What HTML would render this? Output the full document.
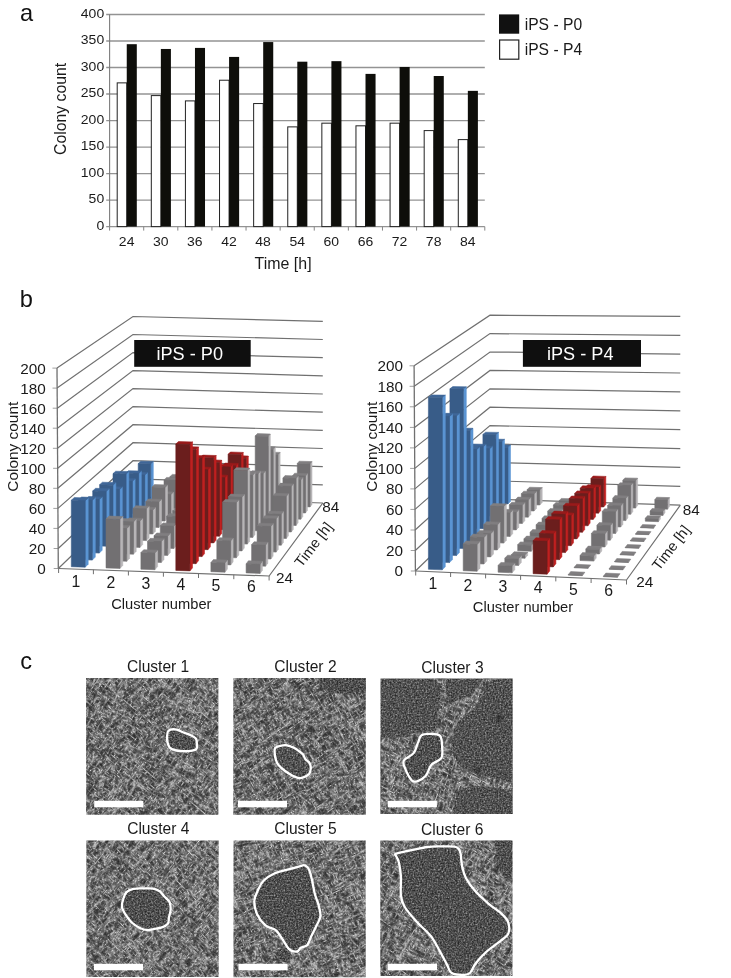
<!DOCTYPE html><html><head><meta charset="utf-8"><title>Figure</title><style>html,body{margin:0;padding:0;background:#fff}svg{display:block;will-change:transform}</style></head><body>
<svg width="731" height="978" viewBox="0 0 731 978">
<rect width="731" height="978" fill="#fff"/>
<defs>
<filter id="va0" x="0" y="0" width="100%" height="100%" color-interpolation-filters="sRGB"><feTurbulence type="turbulence" baseFrequency="0.3 0.09" numOctaves="2" seed="3" result="n"/>
<feComponentTransfer in="n" result="m"><feFuncA type="table" tableValues="0.86 0.56 0.37 0.28 0.232 0.202 0.182 0.168 0.158 0.152 0.152"/></feComponentTransfer>
<feColorMatrix in="m" type="matrix" values="0 0 0 1 0  0 0 0 1 0  0 0 0 1 0  0 0 0 0 1" result="g"/><feTurbulence type="fractalNoise" baseFrequency="0.7" numOctaves="2" seed="5" result="q"/>
<feColorMatrix in="q" type="matrix" values="0 0 0 1 0  0 0 0 1 0  0 0 0 1 0  0 0 0 0 1" result="q2"/>
<feComposite in="g" in2="q2" operator="arithmetic" k1="0" k2="1" k3="0.42" k4="-0.210"/></filter>
<filter id="vb0" x="0" y="0" width="100%" height="100%" color-interpolation-filters="sRGB"><feTurbulence type="turbulence" baseFrequency="0.3 0.09" numOctaves="2" seed="20" result="n"/>
<feComponentTransfer in="n" result="m"><feFuncA type="table" tableValues="0.86 0.56 0.37 0.28 0.232 0.202 0.182 0.168 0.158 0.152 0.152"/></feComponentTransfer>
<feColorMatrix in="m" type="matrix" values="0 0 0 1 0  0 0 0 1 0  0 0 0 1 0  0 0 0 0 1" result="g"/><feTurbulence type="fractalNoise" baseFrequency="0.7" numOctaves="2" seed="12" result="q"/>
<feColorMatrix in="q" type="matrix" values="0 0 0 1 0  0 0 0 1 0  0 0 0 1 0  0 0 0 0 1" result="q2"/>
<feComposite in="g" in2="q2" operator="arithmetic" k1="0" k2="1" k3="0.42" k4="-0.210"/></filter>
<filter id="col0" x="0" y="0" width="100%" height="100%" color-interpolation-filters="sRGB"><feTurbulence type="fractalNoise" baseFrequency="0.62" numOctaves="2" seed="4" result="n"/>
<feComponentTransfer in="n" result="m"><feFuncA type="table" tableValues="0.1 0.12 0.15 0.2 0.25 0.31 0.38 0.46 0.56 0.66 0.72"/></feComponentTransfer>
<feColorMatrix in="m" type="matrix" values="0 0 0 1 0  0 0 0 1 0  0 0 0 1 0  0 0 0 0 1"/></filter>
<filter id="va1" x="0" y="0" width="100%" height="100%" color-interpolation-filters="sRGB"><feTurbulence type="turbulence" baseFrequency="0.3 0.09" numOctaves="2" seed="7" result="n"/>
<feComponentTransfer in="n" result="m"><feFuncA type="table" tableValues="0.86 0.56 0.37 0.28 0.232 0.202 0.182 0.168 0.158 0.152 0.152"/></feComponentTransfer>
<feColorMatrix in="m" type="matrix" values="0 0 0 1 0  0 0 0 1 0  0 0 0 1 0  0 0 0 0 1" result="g"/><feTurbulence type="fractalNoise" baseFrequency="0.7" numOctaves="2" seed="6" result="q"/>
<feColorMatrix in="q" type="matrix" values="0 0 0 1 0  0 0 0 1 0  0 0 0 1 0  0 0 0 0 1" result="q2"/>
<feComposite in="g" in2="q2" operator="arithmetic" k1="0" k2="1" k3="0.42" k4="-0.210"/></filter>
<filter id="vb1" x="0" y="0" width="100%" height="100%" color-interpolation-filters="sRGB"><feTurbulence type="turbulence" baseFrequency="0.3 0.09" numOctaves="2" seed="23" result="n"/>
<feComponentTransfer in="n" result="m"><feFuncA type="table" tableValues="0.86 0.56 0.37 0.28 0.232 0.202 0.182 0.168 0.158 0.152 0.152"/></feComponentTransfer>
<feColorMatrix in="m" type="matrix" values="0 0 0 1 0  0 0 0 1 0  0 0 0 1 0  0 0 0 0 1" result="g"/><feTurbulence type="fractalNoise" baseFrequency="0.7" numOctaves="2" seed="13" result="q"/>
<feColorMatrix in="q" type="matrix" values="0 0 0 1 0  0 0 0 1 0  0 0 0 1 0  0 0 0 0 1" result="q2"/>
<feComposite in="g" in2="q2" operator="arithmetic" k1="0" k2="1" k3="0.42" k4="-0.210"/></filter>
<filter id="col1" x="0" y="0" width="100%" height="100%" color-interpolation-filters="sRGB"><feTurbulence type="fractalNoise" baseFrequency="0.62" numOctaves="2" seed="7" result="n"/>
<feComponentTransfer in="n" result="m"><feFuncA type="table" tableValues="0.1 0.12 0.15 0.2 0.25 0.31 0.38 0.46 0.56 0.66 0.72"/></feComponentTransfer>
<feColorMatrix in="m" type="matrix" values="0 0 0 1 0  0 0 0 1 0  0 0 0 1 0  0 0 0 0 1"/></filter>
<filter id="va2" x="0" y="0" width="100%" height="100%" color-interpolation-filters="sRGB"><feTurbulence type="turbulence" baseFrequency="0.3 0.09" numOctaves="2" seed="11" result="n"/>
<feComponentTransfer in="n" result="m"><feFuncA type="table" tableValues="0.86 0.56 0.37 0.28 0.232 0.202 0.182 0.168 0.158 0.152 0.152"/></feComponentTransfer>
<feColorMatrix in="m" type="matrix" values="0 0 0 1 0  0 0 0 1 0  0 0 0 1 0  0 0 0 0 1" result="g"/><feTurbulence type="fractalNoise" baseFrequency="0.7" numOctaves="2" seed="7" result="q"/>
<feColorMatrix in="q" type="matrix" values="0 0 0 1 0  0 0 0 1 0  0 0 0 1 0  0 0 0 0 1" result="q2"/>
<feComposite in="g" in2="q2" operator="arithmetic" k1="0" k2="1" k3="0.42" k4="-0.210"/></filter>
<filter id="vb2" x="0" y="0" width="100%" height="100%" color-interpolation-filters="sRGB"><feTurbulence type="turbulence" baseFrequency="0.3 0.09" numOctaves="2" seed="26" result="n"/>
<feComponentTransfer in="n" result="m"><feFuncA type="table" tableValues="0.86 0.56 0.37 0.28 0.232 0.202 0.182 0.168 0.158 0.152 0.152"/></feComponentTransfer>
<feColorMatrix in="m" type="matrix" values="0 0 0 1 0  0 0 0 1 0  0 0 0 1 0  0 0 0 0 1" result="g"/><feTurbulence type="fractalNoise" baseFrequency="0.7" numOctaves="2" seed="14" result="q"/>
<feColorMatrix in="q" type="matrix" values="0 0 0 1 0  0 0 0 1 0  0 0 0 1 0  0 0 0 0 1" result="q2"/>
<feComposite in="g" in2="q2" operator="arithmetic" k1="0" k2="1" k3="0.42" k4="-0.210"/></filter>
<filter id="col2" x="0" y="0" width="100%" height="100%" color-interpolation-filters="sRGB"><feTurbulence type="fractalNoise" baseFrequency="0.62" numOctaves="2" seed="10" result="n"/>
<feComponentTransfer in="n" result="m"><feFuncA type="table" tableValues="0.11 0.13 0.16 0.21 0.26 0.32 0.39 0.47 0.57 0.67 0.73"/></feComponentTransfer>
<feColorMatrix in="m" type="matrix" values="0 0 0 1 0  0 0 0 1 0  0 0 0 1 0  0 0 0 0 1"/></filter>
<filter id="va3" x="0" y="0" width="100%" height="100%" color-interpolation-filters="sRGB"><feTurbulence type="turbulence" baseFrequency="0.3 0.09" numOctaves="2" seed="15" result="n"/>
<feComponentTransfer in="n" result="m"><feFuncA type="table" tableValues="0.86 0.56 0.37 0.28 0.232 0.202 0.182 0.168 0.158 0.152 0.152"/></feComponentTransfer>
<feColorMatrix in="m" type="matrix" values="0 0 0 1 0  0 0 0 1 0  0 0 0 1 0  0 0 0 0 1" result="g"/><feTurbulence type="fractalNoise" baseFrequency="0.7" numOctaves="2" seed="8" result="q"/>
<feColorMatrix in="q" type="matrix" values="0 0 0 1 0  0 0 0 1 0  0 0 0 1 0  0 0 0 0 1" result="q2"/>
<feComposite in="g" in2="q2" operator="arithmetic" k1="0" k2="1" k3="0.42" k4="-0.210"/></filter>
<filter id="vb3" x="0" y="0" width="100%" height="100%" color-interpolation-filters="sRGB"><feTurbulence type="turbulence" baseFrequency="0.3 0.09" numOctaves="2" seed="29" result="n"/>
<feComponentTransfer in="n" result="m"><feFuncA type="table" tableValues="0.86 0.56 0.37 0.28 0.232 0.202 0.182 0.168 0.158 0.152 0.152"/></feComponentTransfer>
<feColorMatrix in="m" type="matrix" values="0 0 0 1 0  0 0 0 1 0  0 0 0 1 0  0 0 0 0 1" result="g"/><feTurbulence type="fractalNoise" baseFrequency="0.7" numOctaves="2" seed="15" result="q"/>
<feColorMatrix in="q" type="matrix" values="0 0 0 1 0  0 0 0 1 0  0 0 0 1 0  0 0 0 0 1" result="q2"/>
<feComposite in="g" in2="q2" operator="arithmetic" k1="0" k2="1" k3="0.42" k4="-0.210"/></filter>
<filter id="col3" x="0" y="0" width="100%" height="100%" color-interpolation-filters="sRGB"><feTurbulence type="fractalNoise" baseFrequency="0.62" numOctaves="2" seed="13" result="n"/>
<feComponentTransfer in="n" result="m"><feFuncA type="table" tableValues="0.1 0.12 0.15 0.2 0.25 0.31 0.38 0.46 0.56 0.66 0.72"/></feComponentTransfer>
<feColorMatrix in="m" type="matrix" values="0 0 0 1 0  0 0 0 1 0  0 0 0 1 0  0 0 0 0 1"/></filter>
<filter id="va4" x="0" y="0" width="100%" height="100%" color-interpolation-filters="sRGB"><feTurbulence type="turbulence" baseFrequency="0.3 0.09" numOctaves="2" seed="19" result="n"/>
<feComponentTransfer in="n" result="m"><feFuncA type="table" tableValues="0.86 0.56 0.37 0.28 0.232 0.202 0.182 0.168 0.158 0.152 0.152"/></feComponentTransfer>
<feColorMatrix in="m" type="matrix" values="0 0 0 1 0  0 0 0 1 0  0 0 0 1 0  0 0 0 0 1" result="g"/><feTurbulence type="fractalNoise" baseFrequency="0.7" numOctaves="2" seed="9" result="q"/>
<feColorMatrix in="q" type="matrix" values="0 0 0 1 0  0 0 0 1 0  0 0 0 1 0  0 0 0 0 1" result="q2"/>
<feComposite in="g" in2="q2" operator="arithmetic" k1="0" k2="1" k3="0.42" k4="-0.210"/></filter>
<filter id="vb4" x="0" y="0" width="100%" height="100%" color-interpolation-filters="sRGB"><feTurbulence type="turbulence" baseFrequency="0.3 0.09" numOctaves="2" seed="32" result="n"/>
<feComponentTransfer in="n" result="m"><feFuncA type="table" tableValues="0.86 0.56 0.37 0.28 0.232 0.202 0.182 0.168 0.158 0.152 0.152"/></feComponentTransfer>
<feColorMatrix in="m" type="matrix" values="0 0 0 1 0  0 0 0 1 0  0 0 0 1 0  0 0 0 0 1" result="g"/><feTurbulence type="fractalNoise" baseFrequency="0.7" numOctaves="2" seed="16" result="q"/>
<feColorMatrix in="q" type="matrix" values="0 0 0 1 0  0 0 0 1 0  0 0 0 1 0  0 0 0 0 1" result="q2"/>
<feComposite in="g" in2="q2" operator="arithmetic" k1="0" k2="1" k3="0.42" k4="-0.210"/></filter>
<filter id="col4" x="0" y="0" width="100%" height="100%" color-interpolation-filters="sRGB"><feTurbulence type="fractalNoise" baseFrequency="0.62" numOctaves="2" seed="16" result="n"/>
<feComponentTransfer in="n" result="m"><feFuncA type="table" tableValues="0.1 0.12 0.15 0.2 0.25 0.31 0.38 0.46 0.56 0.66 0.72"/></feComponentTransfer>
<feColorMatrix in="m" type="matrix" values="0 0 0 1 0  0 0 0 1 0  0 0 0 1 0  0 0 0 0 1"/></filter>
<filter id="va5" x="0" y="0" width="100%" height="100%" color-interpolation-filters="sRGB"><feTurbulence type="turbulence" baseFrequency="0.3 0.09" numOctaves="2" seed="23" result="n"/>
<feComponentTransfer in="n" result="m"><feFuncA type="table" tableValues="0.86 0.56 0.37 0.28 0.232 0.202 0.182 0.168 0.158 0.152 0.152"/></feComponentTransfer>
<feColorMatrix in="m" type="matrix" values="0 0 0 1 0  0 0 0 1 0  0 0 0 1 0  0 0 0 0 1" result="g"/><feTurbulence type="fractalNoise" baseFrequency="0.7" numOctaves="2" seed="10" result="q"/>
<feColorMatrix in="q" type="matrix" values="0 0 0 1 0  0 0 0 1 0  0 0 0 1 0  0 0 0 0 1" result="q2"/>
<feComposite in="g" in2="q2" operator="arithmetic" k1="0" k2="1" k3="0.42" k4="-0.210"/></filter>
<filter id="vb5" x="0" y="0" width="100%" height="100%" color-interpolation-filters="sRGB"><feTurbulence type="turbulence" baseFrequency="0.3 0.09" numOctaves="2" seed="35" result="n"/>
<feComponentTransfer in="n" result="m"><feFuncA type="table" tableValues="0.86 0.56 0.37 0.28 0.232 0.202 0.182 0.168 0.158 0.152 0.152"/></feComponentTransfer>
<feColorMatrix in="m" type="matrix" values="0 0 0 1 0  0 0 0 1 0  0 0 0 1 0  0 0 0 0 1" result="g"/><feTurbulence type="fractalNoise" baseFrequency="0.7" numOctaves="2" seed="17" result="q"/>
<feColorMatrix in="q" type="matrix" values="0 0 0 1 0  0 0 0 1 0  0 0 0 1 0  0 0 0 0 1" result="q2"/>
<feComposite in="g" in2="q2" operator="arithmetic" k1="0" k2="1" k3="0.42" k4="-0.210"/></filter>
<filter id="col5" x="0" y="0" width="100%" height="100%" color-interpolation-filters="sRGB"><feTurbulence type="fractalNoise" baseFrequency="0.62" numOctaves="2" seed="19" result="n"/>
<feComponentTransfer in="n" result="m"><feFuncA type="table" tableValues="0.1 0.12 0.15 0.2 0.25 0.31 0.38 0.46 0.56 0.66 0.72"/></feComponentTransfer>
<feColorMatrix in="m" type="matrix" values="0 0 0 1 0  0 0 0 1 0  0 0 0 1 0  0 0 0 0 1"/></filter>
<filter id="blur1" x="-50%" y="-50%" width="200%" height="200%"><feGaussianBlur stdDeviation="1"/></filter>
</defs>
<g id="pa">
<text x="20.0" y="20.5" font-size="23.6" font-family="Liberation Sans, sans-serif" fill="#111">a</text>
<line x1="106.2" y1="226.60" x2="484.8" y2="226.60" stroke="#939393" stroke-width="1.35"/>
<text transform="translate(104.2,229.80) scale(1.13,1)" text-anchor="end" font-size="12.4" font-family="Liberation Sans, sans-serif" fill="#1a1a1a">0</text>
<line x1="106.2" y1="200.09" x2="484.8" y2="200.09" stroke="#939393" stroke-width="1.35"/>
<text transform="translate(104.2,203.29) scale(1.13,1)" text-anchor="end" font-size="12.4" font-family="Liberation Sans, sans-serif" fill="#1a1a1a">50</text>
<line x1="106.2" y1="173.57" x2="484.8" y2="173.57" stroke="#939393" stroke-width="1.35"/>
<text transform="translate(104.2,176.77) scale(1.13,1)" text-anchor="end" font-size="12.4" font-family="Liberation Sans, sans-serif" fill="#1a1a1a">100</text>
<line x1="106.2" y1="147.06" x2="484.8" y2="147.06" stroke="#939393" stroke-width="1.35"/>
<text transform="translate(104.2,150.26) scale(1.13,1)" text-anchor="end" font-size="12.4" font-family="Liberation Sans, sans-serif" fill="#1a1a1a">150</text>
<line x1="106.2" y1="120.55" x2="484.8" y2="120.55" stroke="#939393" stroke-width="1.35"/>
<text transform="translate(104.2,123.75) scale(1.13,1)" text-anchor="end" font-size="12.4" font-family="Liberation Sans, sans-serif" fill="#1a1a1a">200</text>
<line x1="106.2" y1="94.04" x2="484.8" y2="94.04" stroke="#939393" stroke-width="1.35"/>
<text transform="translate(104.2,97.24) scale(1.13,1)" text-anchor="end" font-size="12.4" font-family="Liberation Sans, sans-serif" fill="#1a1a1a">250</text>
<line x1="106.2" y1="67.53" x2="484.8" y2="67.53" stroke="#939393" stroke-width="1.35"/>
<text transform="translate(104.2,70.73) scale(1.13,1)" text-anchor="end" font-size="12.4" font-family="Liberation Sans, sans-serif" fill="#1a1a1a">300</text>
<line x1="106.2" y1="41.01" x2="484.8" y2="41.01" stroke="#939393" stroke-width="1.35"/>
<text transform="translate(104.2,44.21) scale(1.13,1)" text-anchor="end" font-size="12.4" font-family="Liberation Sans, sans-serif" fill="#1a1a1a">350</text>
<line x1="106.2" y1="14.50" x2="484.8" y2="14.50" stroke="#939393" stroke-width="1.35"/>
<text transform="translate(104.2,17.70) scale(1.13,1)" text-anchor="end" font-size="12.4" font-family="Liberation Sans, sans-serif" fill="#1a1a1a">400</text>
<line x1="109.6" y1="14.5" x2="109.6" y2="226.6" stroke="#7c7c7c" stroke-width="1.1"/>
<line x1="109.60" y1="226.6" x2="109.60" y2="230.6" stroke="#868686" stroke-width="1"/>
<line x1="143.71" y1="226.6" x2="143.71" y2="230.6" stroke="#868686" stroke-width="1"/>
<line x1="177.82" y1="226.6" x2="177.82" y2="230.6" stroke="#868686" stroke-width="1"/>
<line x1="211.93" y1="226.6" x2="211.93" y2="230.6" stroke="#868686" stroke-width="1"/>
<line x1="246.04" y1="226.6" x2="246.04" y2="230.6" stroke="#868686" stroke-width="1"/>
<line x1="280.15" y1="226.6" x2="280.15" y2="230.6" stroke="#868686" stroke-width="1"/>
<line x1="314.25" y1="226.6" x2="314.25" y2="230.6" stroke="#868686" stroke-width="1"/>
<line x1="348.36" y1="226.6" x2="348.36" y2="230.6" stroke="#868686" stroke-width="1"/>
<line x1="382.47" y1="226.6" x2="382.47" y2="230.6" stroke="#868686" stroke-width="1"/>
<line x1="416.58" y1="226.6" x2="416.58" y2="230.6" stroke="#868686" stroke-width="1"/>
<line x1="450.69" y1="226.6" x2="450.69" y2="230.6" stroke="#868686" stroke-width="1"/>
<line x1="484.80" y1="226.6" x2="484.80" y2="230.6" stroke="#868686" stroke-width="1"/>
<rect x="117.20" y="82.87" width="9.55" height="143.73" fill="#fff" stroke="#222" stroke-width="1"/>
<rect x="126.75" y="44.19" width="10.05" height="182.41" fill="#0e0e0a"/>
<text transform="translate(126.65,246.3) scale(1.13,1)" text-anchor="middle" font-size="12.4" font-family="Liberation Sans, sans-serif" fill="#1a1a1a">24</text>
<rect x="151.31" y="95.60" width="9.55" height="131.00" fill="#fff" stroke="#222" stroke-width="1"/>
<rect x="160.86" y="48.97" width="10.05" height="177.63" fill="#0e0e0a"/>
<text transform="translate(160.76,246.3) scale(1.13,1)" text-anchor="middle" font-size="12.4" font-family="Liberation Sans, sans-serif" fill="#1a1a1a">30</text>
<rect x="185.42" y="100.90" width="9.55" height="125.70" fill="#fff" stroke="#222" stroke-width="1"/>
<rect x="194.97" y="47.91" width="10.05" height="178.69" fill="#0e0e0a"/>
<text transform="translate(194.87,246.3) scale(1.13,1)" text-anchor="middle" font-size="12.4" font-family="Liberation Sans, sans-serif" fill="#1a1a1a">36</text>
<rect x="219.53" y="80.22" width="9.55" height="146.38" fill="#fff" stroke="#222" stroke-width="1"/>
<rect x="229.08" y="56.92" width="10.05" height="169.68" fill="#0e0e0a"/>
<text transform="translate(228.98,246.3) scale(1.13,1)" text-anchor="middle" font-size="12.4" font-family="Liberation Sans, sans-serif" fill="#1a1a1a">42</text>
<rect x="253.64" y="103.55" width="9.55" height="123.05" fill="#fff" stroke="#222" stroke-width="1"/>
<rect x="263.19" y="42.07" width="10.05" height="184.53" fill="#0e0e0a"/>
<text transform="translate(263.09,246.3) scale(1.13,1)" text-anchor="middle" font-size="12.4" font-family="Liberation Sans, sans-serif" fill="#1a1a1a">48</text>
<rect x="287.75" y="126.88" width="9.55" height="99.72" fill="#fff" stroke="#222" stroke-width="1"/>
<rect x="297.30" y="61.69" width="10.05" height="164.91" fill="#0e0e0a"/>
<text transform="translate(297.20,246.3) scale(1.13,1)" text-anchor="middle" font-size="12.4" font-family="Liberation Sans, sans-serif" fill="#1a1a1a">54</text>
<rect x="321.85" y="123.17" width="9.55" height="103.43" fill="#fff" stroke="#222" stroke-width="1"/>
<rect x="331.40" y="61.16" width="10.05" height="165.44" fill="#0e0e0a"/>
<text transform="translate(331.31,246.3) scale(1.13,1)" text-anchor="middle" font-size="12.4" font-family="Liberation Sans, sans-serif" fill="#1a1a1a">60</text>
<rect x="355.96" y="125.82" width="9.55" height="100.78" fill="#fff" stroke="#222" stroke-width="1"/>
<rect x="365.51" y="73.89" width="10.05" height="152.71" fill="#0e0e0a"/>
<text transform="translate(365.42,246.3) scale(1.13,1)" text-anchor="middle" font-size="12.4" font-family="Liberation Sans, sans-serif" fill="#1a1a1a">66</text>
<rect x="390.07" y="123.17" width="9.55" height="103.43" fill="#fff" stroke="#222" stroke-width="1"/>
<rect x="399.62" y="66.99" width="10.05" height="159.61" fill="#0e0e0a"/>
<text transform="translate(399.53,246.3) scale(1.13,1)" text-anchor="middle" font-size="12.4" font-family="Liberation Sans, sans-serif" fill="#1a1a1a">72</text>
<rect x="424.18" y="130.59" width="9.55" height="96.01" fill="#fff" stroke="#222" stroke-width="1"/>
<rect x="433.73" y="76.01" width="10.05" height="150.59" fill="#0e0e0a"/>
<text transform="translate(433.64,246.3) scale(1.13,1)" text-anchor="middle" font-size="12.4" font-family="Liberation Sans, sans-serif" fill="#1a1a1a">78</text>
<rect x="458.29" y="139.61" width="9.55" height="86.99" fill="#fff" stroke="#222" stroke-width="1"/>
<rect x="467.84" y="90.86" width="10.05" height="135.74" fill="#0e0e0a"/>
<text transform="translate(467.75,246.3) scale(1.13,1)" text-anchor="middle" font-size="12.4" font-family="Liberation Sans, sans-serif" fill="#1a1a1a">84</text>
<text x="283.1" y="269.3" text-anchor="middle" font-size="15.7" font-family="Liberation Sans, sans-serif" fill="#1a1a1a" textLength="57" lengthAdjust="spacingAndGlyphs">Time [h]</text>
<text transform="translate(66.1,108.9) rotate(-90)" text-anchor="middle" font-size="15.7" font-family="Liberation Sans, sans-serif" fill="#1a1a1a" textLength="92" lengthAdjust="spacingAndGlyphs">Colony count</text>
<rect x="499" y="14.4" width="20.2" height="19.3" fill="#111"/>
<rect x="499.6" y="40" width="19.2" height="19.2" fill="#fff" stroke="#222" stroke-width="1.2"/>
<text x="524.7" y="29.9" font-size="15.7" font-family="Liberation Sans, sans-serif" fill="#1a1a1a" textLength="57.4" lengthAdjust="spacingAndGlyphs">iPS - P0</text>
<text x="524.7" y="54.7" font-size="15.7" font-family="Liberation Sans, sans-serif" fill="#1a1a1a" textLength="57.4" lengthAdjust="spacingAndGlyphs">iPS - P4</text>
</g>
<text x="19.8" y="306.7" font-size="23.6" font-family="Liberation Sans, sans-serif" fill="#111">b</text>
<g>
<polyline points="58.3,568.5 133.0,496.8 322.8,503.0" fill="none" stroke="#707070" stroke-width="1.2"/>
<line x1="53.7" y1="568.5" x2="58.3" y2="568.5" stroke="#a0a0a0" stroke-width="1"/>
<text x="45.8" y="573.9" text-anchor="end" font-size="15.3" font-family="Liberation Sans, sans-serif" fill="#1a1a1a">0</text>
<polyline points="58.2,548.5 133.0,478.8 322.8,484.8" fill="none" stroke="#707070" stroke-width="1.2"/>
<line x1="53.6" y1="548.5" x2="58.2" y2="548.5" stroke="#a0a0a0" stroke-width="1"/>
<text x="45.8" y="553.9" text-anchor="end" font-size="15.3" font-family="Liberation Sans, sans-serif" fill="#1a1a1a">20</text>
<polyline points="58.0,528.4 133.0,460.7 322.8,466.7" fill="none" stroke="#707070" stroke-width="1.2"/>
<line x1="53.4" y1="528.4" x2="58.0" y2="528.4" stroke="#a0a0a0" stroke-width="1"/>
<text x="45.8" y="533.8" text-anchor="end" font-size="15.3" font-family="Liberation Sans, sans-serif" fill="#1a1a1a">40</text>
<polyline points="57.9,508.4 133.0,442.7 322.8,448.5" fill="none" stroke="#707070" stroke-width="1.2"/>
<line x1="53.3" y1="508.4" x2="57.9" y2="508.4" stroke="#a0a0a0" stroke-width="1"/>
<text x="45.8" y="513.8" text-anchor="end" font-size="15.3" font-family="Liberation Sans, sans-serif" fill="#1a1a1a">60</text>
<polyline points="57.8,488.3 133.0,424.7 322.8,430.3" fill="none" stroke="#707070" stroke-width="1.2"/>
<line x1="53.2" y1="488.3" x2="57.8" y2="488.3" stroke="#a0a0a0" stroke-width="1"/>
<text x="45.8" y="493.7" text-anchor="end" font-size="15.3" font-family="Liberation Sans, sans-serif" fill="#1a1a1a">80</text>
<polyline points="57.7,468.3 133.0,406.6 322.8,412.2" fill="none" stroke="#707070" stroke-width="1.2"/>
<line x1="53.1" y1="468.3" x2="57.7" y2="468.3" stroke="#a0a0a0" stroke-width="1"/>
<text x="45.8" y="473.7" text-anchor="end" font-size="15.3" font-family="Liberation Sans, sans-serif" fill="#1a1a1a">100</text>
<polyline points="57.5,448.3 133.0,388.6 322.8,394.0" fill="none" stroke="#707070" stroke-width="1.2"/>
<line x1="52.9" y1="448.3" x2="57.5" y2="448.3" stroke="#a0a0a0" stroke-width="1"/>
<text x="45.8" y="453.7" text-anchor="end" font-size="15.3" font-family="Liberation Sans, sans-serif" fill="#1a1a1a">120</text>
<polyline points="57.4,428.2 133.0,370.6 322.8,375.8" fill="none" stroke="#707070" stroke-width="1.2"/>
<line x1="52.8" y1="428.2" x2="57.4" y2="428.2" stroke="#a0a0a0" stroke-width="1"/>
<text x="45.8" y="433.6" text-anchor="end" font-size="15.3" font-family="Liberation Sans, sans-serif" fill="#1a1a1a">140</text>
<polyline points="57.3,408.2 133.0,352.6 322.8,357.7" fill="none" stroke="#707070" stroke-width="1.2"/>
<line x1="52.7" y1="408.2" x2="57.3" y2="408.2" stroke="#a0a0a0" stroke-width="1"/>
<text x="45.8" y="413.6" text-anchor="end" font-size="15.3" font-family="Liberation Sans, sans-serif" fill="#1a1a1a">160</text>
<polyline points="57.1,388.1 133.0,334.5 322.8,339.5" fill="none" stroke="#707070" stroke-width="1.2"/>
<line x1="52.5" y1="388.1" x2="57.1" y2="388.1" stroke="#a0a0a0" stroke-width="1"/>
<text x="45.8" y="393.5" text-anchor="end" font-size="15.3" font-family="Liberation Sans, sans-serif" fill="#1a1a1a">180</text>
<polyline points="57.0,368.1 133.0,316.5 322.8,321.3" fill="none" stroke="#707070" stroke-width="1.2"/>
<line x1="52.4" y1="368.1" x2="57.0" y2="368.1" stroke="#a0a0a0" stroke-width="1"/>
<text x="45.8" y="373.5" text-anchor="end" font-size="15.3" font-family="Liberation Sans, sans-serif" fill="#1a1a1a">200</text>
<line x1="58.3" y1="568.5" x2="57.0" y2="368.1" stroke="#707070" stroke-width="1.3"/>
<polyline points="58.6,568.5 269.1,576.0 322.8,503.0" fill="none" stroke="#707070" stroke-width="1.2"/>
<line x1="58.6" y1="568.5" x2="58.6" y2="573.0" stroke="#707070" stroke-width="1"/>
<line x1="93.4" y1="569.7" x2="93.4" y2="574.2" stroke="#707070" stroke-width="1"/>
<line x1="128.4" y1="571.0" x2="128.4" y2="575.5" stroke="#707070" stroke-width="1"/>
<line x1="163.4" y1="572.2" x2="163.4" y2="576.7" stroke="#707070" stroke-width="1"/>
<line x1="198.5" y1="573.5" x2="198.5" y2="578.0" stroke="#707070" stroke-width="1"/>
<line x1="233.8" y1="574.7" x2="233.8" y2="579.2" stroke="#707070" stroke-width="1"/>
<line x1="269.1" y1="576.0" x2="269.1" y2="580.5" stroke="#707070" stroke-width="1"/>
<rect x="134.2" y="340" width="116.5" height="26.8" fill="#0f0f0f"/>
<text x="156.5" y="360.2" font-size="17.8" font-family="Liberation Sans, sans-serif" fill="#fff" textLength="66.5" lengthAdjust="spacingAndGlyphs">iPS - P0</text>
<polygon points="150.8,501.7 153.3,499.2 153.3,461.6 150.8,464.0" fill="#5a94d3" stroke="#5a94d3" stroke-width="0.55" stroke-linejoin="round" />
<polygon points="138.2,463.6 150.8,464.0 153.3,461.6 140.7,461.2" fill="#3f6698" stroke="#3f6698" stroke-width="0.55" stroke-linejoin="round" />
<polygon points="138.2,501.2 150.8,501.7 150.8,464.0 138.2,463.6" fill="#385c88" stroke="#385c88" stroke-width="0.55" stroke-linejoin="round" />
<polygon points="182.5,502.7 184.9,500.2 184.9,474.8 182.5,477.2" fill="#b7b5b7" stroke="#b7b5b7" stroke-width="0.55" stroke-linejoin="round" />
<polygon points="169.8,476.8 182.5,477.2 184.9,474.8 172.3,474.4" fill="#807e80" stroke="#807e80" stroke-width="0.55" stroke-linejoin="round" />
<polygon points="169.8,502.3 182.5,502.7 182.5,477.2 169.8,476.8" fill="#727072" stroke="#727072" stroke-width="0.55" stroke-linejoin="round" />
<polygon points="214.3,503.7 216.6,501.2 216.6,483.1 214.3,485.5" fill="#b7b5b7" stroke="#b7b5b7" stroke-width="0.55" stroke-linejoin="round" />
<polygon points="201.6,485.1 214.3,485.5 216.6,483.1 203.9,482.7" fill="#807e80" stroke="#807e80" stroke-width="0.55" stroke-linejoin="round" />
<polygon points="201.6,503.3 214.3,503.7 214.3,485.5 201.6,485.1" fill="#727072" stroke="#727072" stroke-width="0.55" stroke-linejoin="round" />
<polygon points="246.2,504.8 248.3,502.3 248.3,456.0 246.2,458.3" fill="#bf2020" stroke="#bf2020" stroke-width="0.55" stroke-linejoin="round" />
<polygon points="233.4,457.9 246.2,458.3 248.3,456.0 235.6,455.6" fill="#991a1a" stroke="#991a1a" stroke-width="0.55" stroke-linejoin="round" />
<polygon points="233.4,504.4 246.2,504.8 246.2,458.3 233.4,457.9" fill="#6b1e1d" stroke="#6b1e1d" stroke-width="0.55" stroke-linejoin="round" />
<polygon points="278.1,505.8 280.1,503.3 280.1,452.4 278.1,454.7" fill="#b7b5b7" stroke="#b7b5b7" stroke-width="0.55" stroke-linejoin="round" />
<polygon points="265.3,454.3 278.1,454.7 280.1,452.4 267.4,452.0" fill="#807e80" stroke="#807e80" stroke-width="0.55" stroke-linejoin="round" />
<polygon points="265.3,505.4 278.1,505.8 278.1,454.7 265.3,454.3" fill="#727072" stroke="#727072" stroke-width="0.55" stroke-linejoin="round" />
<polygon points="310.1,506.9 312.0,504.4 312.0,461.6 310.1,463.9" fill="#b7b5b7" stroke="#b7b5b7" stroke-width="0.55" stroke-linejoin="round" />
<polygon points="297.3,463.5 310.1,463.9 312.0,461.6 299.2,461.2" fill="#807e80" stroke="#807e80" stroke-width="0.55" stroke-linejoin="round" />
<polygon points="297.3,506.5 310.1,506.9 310.1,463.9 297.3,463.5" fill="#727072" stroke="#727072" stroke-width="0.55" stroke-linejoin="round" />
<polygon points="144.8,507.7 147.4,505.1 147.4,472.7 144.8,475.1" fill="#5a94d3" stroke="#5a94d3" stroke-width="0.55" stroke-linejoin="round" />
<polygon points="132.1,474.7 144.8,475.1 147.4,472.7 134.6,472.3" fill="#3f6698" stroke="#3f6698" stroke-width="0.55" stroke-linejoin="round" />
<polygon points="132.1,507.2 144.8,507.7 144.8,475.1 132.1,474.7" fill="#385c88" stroke="#385c88" stroke-width="0.55" stroke-linejoin="round" />
<polygon points="176.8,508.7 179.2,506.2 179.2,477.8 176.8,480.3" fill="#b7b5b7" stroke="#b7b5b7" stroke-width="0.55" stroke-linejoin="round" />
<polygon points="164.0,479.9 176.8,480.3 179.2,477.8 166.5,477.4" fill="#807e80" stroke="#807e80" stroke-width="0.55" stroke-linejoin="round" />
<polygon points="164.0,508.3 176.8,508.7 176.8,480.3 164.0,479.9" fill="#727072" stroke="#727072" stroke-width="0.55" stroke-linejoin="round" />
<polygon points="208.9,509.8 211.2,507.2 211.2,487.1 208.9,489.6" fill="#b7b5b7" stroke="#b7b5b7" stroke-width="0.55" stroke-linejoin="round" />
<polygon points="196.0,489.2 208.9,489.6 211.2,487.1 198.4,486.7" fill="#807e80" stroke="#807e80" stroke-width="0.55" stroke-linejoin="round" />
<polygon points="196.0,509.4 208.9,509.8 208.9,489.6 196.0,489.2" fill="#727072" stroke="#727072" stroke-width="0.55" stroke-linejoin="round" />
<polygon points="241.0,510.8 243.2,508.3 243.2,452.4 241.0,454.7" fill="#bf2020" stroke="#bf2020" stroke-width="0.55" stroke-linejoin="round" />
<polygon points="228.1,454.3 241.0,454.7 243.2,452.4 230.4,452.0" fill="#991a1a" stroke="#991a1a" stroke-width="0.55" stroke-linejoin="round" />
<polygon points="228.1,510.4 241.0,510.8 241.0,454.7 228.1,454.3" fill="#6b1e1d" stroke="#6b1e1d" stroke-width="0.55" stroke-linejoin="round" />
<polygon points="273.2,511.9 275.3,509.3 275.3,446.9 273.2,449.3" fill="#b7b5b7" stroke="#b7b5b7" stroke-width="0.55" stroke-linejoin="round" />
<polygon points="260.3,448.9 273.2,449.3 275.3,446.9 262.4,446.6" fill="#807e80" stroke="#807e80" stroke-width="0.55" stroke-linejoin="round" />
<polygon points="260.3,511.5 273.2,511.9 273.2,449.3 260.3,448.9" fill="#727072" stroke="#727072" stroke-width="0.55" stroke-linejoin="round" />
<polygon points="305.5,513.0 307.4,510.4 307.4,473.7 305.5,476.1" fill="#b7b5b7" stroke="#b7b5b7" stroke-width="0.55" stroke-linejoin="round" />
<polygon points="292.6,475.7 305.5,476.1 307.4,473.7 294.6,473.2" fill="#807e80" stroke="#807e80" stroke-width="0.55" stroke-linejoin="round" />
<polygon points="292.6,512.6 305.5,513.0 305.5,476.1 292.6,475.7" fill="#727072" stroke="#727072" stroke-width="0.55" stroke-linejoin="round" />
<polygon points="138.7,513.8 141.3,511.2 141.3,471.1 138.7,473.5" fill="#5a94d3" stroke="#5a94d3" stroke-width="0.55" stroke-linejoin="round" />
<polygon points="125.8,473.1 138.7,473.5 141.3,471.1 128.4,470.7" fill="#3f6698" stroke="#3f6698" stroke-width="0.55" stroke-linejoin="round" />
<polygon points="125.8,513.4 138.7,513.8 138.7,473.5 125.8,473.1" fill="#385c88" stroke="#385c88" stroke-width="0.55" stroke-linejoin="round" />
<polygon points="171.0,514.9 173.4,512.3 173.4,492.0 171.0,494.5" fill="#b7b5b7" stroke="#b7b5b7" stroke-width="0.55" stroke-linejoin="round" />
<polygon points="158.0,494.1 171.0,494.5 173.4,492.0 160.6,491.6" fill="#807e80" stroke="#807e80" stroke-width="0.55" stroke-linejoin="round" />
<polygon points="158.0,514.4 171.0,514.9 171.0,494.5 158.0,494.1" fill="#727072" stroke="#727072" stroke-width="0.55" stroke-linejoin="round" />
<polygon points="203.3,515.9 205.6,513.3 205.6,493.0 203.3,495.5" fill="#b7b5b7" stroke="#b7b5b7" stroke-width="0.55" stroke-linejoin="round" />
<polygon points="190.4,495.1 203.3,495.5 205.6,493.0 192.7,492.6" fill="#807e80" stroke="#807e80" stroke-width="0.55" stroke-linejoin="round" />
<polygon points="190.4,515.5 203.3,515.9 203.3,495.5 190.4,495.1" fill="#727072" stroke="#727072" stroke-width="0.55" stroke-linejoin="round" />
<polygon points="235.7,517.0 238.0,514.4 238.0,463.5 235.7,465.9" fill="#bf2020" stroke="#bf2020" stroke-width="0.55" stroke-linejoin="round" />
<polygon points="222.8,465.5 235.7,465.9 238.0,463.5 225.0,463.1" fill="#991a1a" stroke="#991a1a" stroke-width="0.55" stroke-linejoin="round" />
<polygon points="222.8,516.6 235.7,517.0 235.7,465.9 222.8,465.5" fill="#6b1e1d" stroke="#6b1e1d" stroke-width="0.55" stroke-linejoin="round" />
<polygon points="268.3,518.1 270.3,515.5 270.3,434.0 268.3,436.3" fill="#b7b5b7" stroke="#b7b5b7" stroke-width="0.55" stroke-linejoin="round" />
<polygon points="255.2,435.9 268.3,436.3 270.3,434.0 257.4,433.6" fill="#807e80" stroke="#807e80" stroke-width="0.55" stroke-linejoin="round" />
<polygon points="255.2,517.7 268.3,518.1 268.3,436.3 255.2,435.9" fill="#727072" stroke="#727072" stroke-width="0.55" stroke-linejoin="round" />
<polygon points="300.9,519.2 302.8,516.6 302.8,477.6 300.9,480.1" fill="#b7b5b7" stroke="#b7b5b7" stroke-width="0.55" stroke-linejoin="round" />
<polygon points="287.8,479.7 300.9,480.1 302.8,477.6 289.8,477.2" fill="#807e80" stroke="#807e80" stroke-width="0.55" stroke-linejoin="round" />
<polygon points="287.8,518.8 300.9,519.2 300.9,480.1 287.8,479.7" fill="#727072" stroke="#727072" stroke-width="0.55" stroke-linejoin="round" />
<polygon points="132.4,520.0 135.1,517.4 135.1,478.8 132.4,481.3" fill="#5a94d3" stroke="#5a94d3" stroke-width="0.55" stroke-linejoin="round" />
<polygon points="119.4,480.8 132.4,481.3 135.1,478.8 122.1,478.4" fill="#3f6698" stroke="#3f6698" stroke-width="0.55" stroke-linejoin="round" />
<polygon points="119.4,519.6 132.4,520.0 132.4,481.3 119.4,480.8" fill="#385c88" stroke="#385c88" stroke-width="0.55" stroke-linejoin="round" />
<polygon points="165.0,521.1 167.5,518.5 167.5,484.9 165.0,487.5" fill="#b7b5b7" stroke="#b7b5b7" stroke-width="0.55" stroke-linejoin="round" />
<polygon points="152.0,487.0 165.0,487.5 167.5,484.9 154.5,484.5" fill="#807e80" stroke="#807e80" stroke-width="0.55" stroke-linejoin="round" />
<polygon points="152.0,520.7 165.0,521.1 165.0,487.5 152.0,487.0" fill="#727072" stroke="#727072" stroke-width="0.55" stroke-linejoin="round" />
<polygon points="197.7,522.2 200.0,519.6 200.0,497.2 197.7,499.7" fill="#b7b5b7" stroke="#b7b5b7" stroke-width="0.55" stroke-linejoin="round" />
<polygon points="184.6,499.3 197.7,499.7 200.0,497.2 187.0,496.8" fill="#807e80" stroke="#807e80" stroke-width="0.55" stroke-linejoin="round" />
<polygon points="184.6,521.8 197.7,522.2 197.7,499.7 184.6,499.3" fill="#727072" stroke="#727072" stroke-width="0.55" stroke-linejoin="round" />
<polygon points="230.4,523.3 232.6,520.7 232.6,464.6 230.4,467.1" fill="#bf2020" stroke="#bf2020" stroke-width="0.55" stroke-linejoin="round" />
<polygon points="217.3,466.6 230.4,467.1 232.6,464.6 219.6,464.2" fill="#991a1a" stroke="#991a1a" stroke-width="0.55" stroke-linejoin="round" />
<polygon points="217.3,522.9 230.4,523.3 230.4,467.1 217.3,466.6" fill="#6b1e1d" stroke="#6b1e1d" stroke-width="0.55" stroke-linejoin="round" />
<polygon points="263.2,524.4 265.3,521.7 265.3,471.3 263.2,473.7" fill="#b7b5b7" stroke="#b7b5b7" stroke-width="0.55" stroke-linejoin="round" />
<polygon points="250.1,473.3 263.2,473.7 265.3,471.3 252.2,470.8" fill="#807e80" stroke="#807e80" stroke-width="0.55" stroke-linejoin="round" />
<polygon points="250.1,524.0 263.2,524.4 263.2,473.7 250.1,473.3" fill="#727072" stroke="#727072" stroke-width="0.55" stroke-linejoin="round" />
<polygon points="296.1,525.5 298.1,522.8 298.1,476.0 296.1,478.5" fill="#b7b5b7" stroke="#b7b5b7" stroke-width="0.55" stroke-linejoin="round" />
<polygon points="282.9,478.1 296.1,478.5 298.1,476.0 285.0,475.6" fill="#807e80" stroke="#807e80" stroke-width="0.55" stroke-linejoin="round" />
<polygon points="282.9,525.1 296.1,525.5 296.1,478.5 282.9,478.1" fill="#727072" stroke="#727072" stroke-width="0.55" stroke-linejoin="round" />
<polygon points="126.1,526.4 128.8,523.7 128.8,471.6 126.1,474.1" fill="#5a94d3" stroke="#5a94d3" stroke-width="0.55" stroke-linejoin="round" />
<polygon points="113.0,473.6 126.1,474.1 128.8,471.6 115.7,471.2" fill="#3f6698" stroke="#3f6698" stroke-width="0.55" stroke-linejoin="round" />
<polygon points="113.0,525.9 126.1,526.4 126.1,474.1 113.0,473.6" fill="#385c88" stroke="#385c88" stroke-width="0.55" stroke-linejoin="round" />
<polygon points="158.9,527.5 161.5,524.8 161.5,499.4 158.9,502.0" fill="#b7b5b7" stroke="#b7b5b7" stroke-width="0.55" stroke-linejoin="round" />
<polygon points="145.8,501.6 158.9,502.0 161.5,499.4 148.4,499.0" fill="#807e80" stroke="#807e80" stroke-width="0.55" stroke-linejoin="round" />
<polygon points="145.8,527.0 158.9,527.5 158.9,502.0 145.8,501.6" fill="#727072" stroke="#727072" stroke-width="0.55" stroke-linejoin="round" />
<polygon points="191.9,528.6 194.3,525.9 194.3,503.3 191.9,505.9" fill="#b7b5b7" stroke="#b7b5b7" stroke-width="0.55" stroke-linejoin="round" />
<polygon points="178.7,505.5 191.9,505.9 194.3,503.3 181.2,502.9" fill="#807e80" stroke="#807e80" stroke-width="0.55" stroke-linejoin="round" />
<polygon points="178.7,528.2 191.9,528.6 191.9,505.9 178.7,505.5" fill="#727072" stroke="#727072" stroke-width="0.55" stroke-linejoin="round" />
<polygon points="224.9,529.7 227.2,527.0 227.2,475.2 224.9,477.7" fill="#bf2020" stroke="#bf2020" stroke-width="0.55" stroke-linejoin="round" />
<polygon points="211.7,477.2 224.9,477.7 227.2,475.2 214.1,474.7" fill="#991a1a" stroke="#991a1a" stroke-width="0.55" stroke-linejoin="round" />
<polygon points="211.7,529.3 224.9,529.7 224.9,477.7 211.7,477.2" fill="#6b1e1d" stroke="#6b1e1d" stroke-width="0.55" stroke-linejoin="round" />
<polygon points="258.1,530.8 260.2,528.1 260.2,471.5 258.1,474.0" fill="#b7b5b7" stroke="#b7b5b7" stroke-width="0.55" stroke-linejoin="round" />
<polygon points="244.8,473.6 258.1,474.0 260.2,471.5 247.0,471.1" fill="#807e80" stroke="#807e80" stroke-width="0.55" stroke-linejoin="round" />
<polygon points="244.8,530.4 258.1,530.8 258.1,474.0 244.8,473.6" fill="#727072" stroke="#727072" stroke-width="0.55" stroke-linejoin="round" />
<polygon points="291.3,532.0 293.3,529.2 293.3,483.9 291.3,486.4" fill="#b7b5b7" stroke="#b7b5b7" stroke-width="0.55" stroke-linejoin="round" />
<polygon points="278.0,486.0 291.3,486.4 293.3,483.9 280.1,483.5" fill="#807e80" stroke="#807e80" stroke-width="0.55" stroke-linejoin="round" />
<polygon points="278.0,531.5 291.3,532.0 291.3,486.4 278.0,486.0" fill="#727072" stroke="#727072" stroke-width="0.55" stroke-linejoin="round" />
<polygon points="119.6,532.9 122.3,530.1 122.3,487.0 119.6,489.5" fill="#5a94d3" stroke="#5a94d3" stroke-width="0.55" stroke-linejoin="round" />
<polygon points="106.3,489.1 119.6,489.5 122.3,487.0 109.1,486.6" fill="#3f6698" stroke="#3f6698" stroke-width="0.55" stroke-linejoin="round" />
<polygon points="106.3,532.4 119.6,532.9 119.6,489.5 106.3,489.1" fill="#385c88" stroke="#385c88" stroke-width="0.55" stroke-linejoin="round" />
<polygon points="152.8,534.0 155.4,531.2 155.4,507.5 152.8,510.2" fill="#b7b5b7" stroke="#b7b5b7" stroke-width="0.55" stroke-linejoin="round" />
<polygon points="139.5,509.7 152.8,510.2 155.4,507.5 142.1,507.1" fill="#807e80" stroke="#807e80" stroke-width="0.55" stroke-linejoin="round" />
<polygon points="139.5,533.5 152.8,534.0 152.8,510.2 139.5,509.7" fill="#727072" stroke="#727072" stroke-width="0.55" stroke-linejoin="round" />
<polygon points="186.0,535.1 188.5,532.4 188.5,508.6 186.0,511.3" fill="#b7b5b7" stroke="#b7b5b7" stroke-width="0.55" stroke-linejoin="round" />
<polygon points="172.7,510.8 186.0,511.3 188.5,508.6 175.2,508.2" fill="#807e80" stroke="#807e80" stroke-width="0.55" stroke-linejoin="round" />
<polygon points="172.7,534.7 186.0,535.1 186.0,511.3 172.7,510.8" fill="#727072" stroke="#727072" stroke-width="0.55" stroke-linejoin="round" />
<polygon points="219.4,536.3 221.7,533.5 221.7,460.2 219.4,462.7" fill="#bf2020" stroke="#bf2020" stroke-width="0.55" stroke-linejoin="round" />
<polygon points="206.0,462.3 219.4,462.7 221.7,460.2 208.4,459.8" fill="#991a1a" stroke="#991a1a" stroke-width="0.55" stroke-linejoin="round" />
<polygon points="206.0,535.8 219.4,536.3 219.4,462.7 206.0,462.3" fill="#6b1e1d" stroke="#6b1e1d" stroke-width="0.55" stroke-linejoin="round" />
<polygon points="252.8,537.4 255.0,534.6 255.0,472.7 252.8,475.2" fill="#b7b5b7" stroke="#b7b5b7" stroke-width="0.55" stroke-linejoin="round" />
<polygon points="239.4,474.8 252.8,475.2 255.0,472.7 241.7,472.3" fill="#807e80" stroke="#807e80" stroke-width="0.55" stroke-linejoin="round" />
<polygon points="239.4,536.9 252.8,537.4 252.8,475.2 239.4,474.8" fill="#727072" stroke="#727072" stroke-width="0.55" stroke-linejoin="round" />
<polygon points="286.3,538.5 288.4,535.8 288.4,493.8 286.3,496.4" fill="#b7b5b7" stroke="#b7b5b7" stroke-width="0.55" stroke-linejoin="round" />
<polygon points="272.9,495.9 286.3,496.4 288.4,493.8 275.0,493.3" fill="#807e80" stroke="#807e80" stroke-width="0.55" stroke-linejoin="round" />
<polygon points="272.9,538.1 286.3,538.5 286.3,496.4 272.9,495.9" fill="#727072" stroke="#727072" stroke-width="0.55" stroke-linejoin="round" />
<polygon points="113.0,539.5 115.8,536.7 115.8,482.6 113.0,485.2" fill="#5a94d3" stroke="#5a94d3" stroke-width="0.55" stroke-linejoin="round" />
<polygon points="99.6,484.7 113.0,485.2 115.8,482.6 102.4,482.2" fill="#3f6698" stroke="#3f6698" stroke-width="0.55" stroke-linejoin="round" />
<polygon points="99.6,539.0 113.0,539.5 113.0,485.2 99.6,484.7" fill="#385c88" stroke="#385c88" stroke-width="0.55" stroke-linejoin="round" />
<polygon points="146.4,540.6 149.1,537.8 149.1,506.2 146.4,508.8" fill="#b7b5b7" stroke="#b7b5b7" stroke-width="0.55" stroke-linejoin="round" />
<polygon points="133.0,508.4 146.4,508.8 149.1,506.2 135.8,505.7" fill="#807e80" stroke="#807e80" stroke-width="0.55" stroke-linejoin="round" />
<polygon points="133.0,540.1 146.4,540.6 146.4,508.8 133.0,508.4" fill="#727072" stroke="#727072" stroke-width="0.55" stroke-linejoin="round" />
<polygon points="180.0,541.8 182.6,539.0 182.6,514.0 180.0,516.7" fill="#b7b5b7" stroke="#b7b5b7" stroke-width="0.55" stroke-linejoin="round" />
<polygon points="166.6,516.3 180.0,516.7 182.6,514.0 169.2,513.6" fill="#807e80" stroke="#807e80" stroke-width="0.55" stroke-linejoin="round" />
<polygon points="166.6,541.3 180.0,541.8 180.0,516.7 166.6,516.3" fill="#727072" stroke="#727072" stroke-width="0.55" stroke-linejoin="round" />
<polygon points="213.7,542.9 216.1,540.1 216.1,455.5 213.7,458.0" fill="#bf2020" stroke="#bf2020" stroke-width="0.55" stroke-linejoin="round" />
<polygon points="200.2,457.6 213.7,458.0 216.1,455.5 202.7,455.1" fill="#991a1a" stroke="#991a1a" stroke-width="0.55" stroke-linejoin="round" />
<polygon points="200.2,542.5 213.7,542.9 213.7,458.0 200.2,457.6" fill="#6b1e1d" stroke="#6b1e1d" stroke-width="0.55" stroke-linejoin="round" />
<polygon points="247.4,544.1 249.7,541.3 249.7,468.1 247.4,470.6" fill="#b7b5b7" stroke="#b7b5b7" stroke-width="0.55" stroke-linejoin="round" />
<polygon points="233.9,470.2 247.4,470.6 249.7,468.1 236.2,467.7" fill="#807e80" stroke="#807e80" stroke-width="0.55" stroke-linejoin="round" />
<polygon points="233.9,543.6 247.4,544.1 247.4,470.6 233.9,470.2" fill="#727072" stroke="#727072" stroke-width="0.55" stroke-linejoin="round" />
<polygon points="281.3,545.2 283.4,542.4 283.4,511.6 281.3,514.3" fill="#b7b5b7" stroke="#b7b5b7" stroke-width="0.55" stroke-linejoin="round" />
<polygon points="267.7,513.8 281.3,514.3 283.4,511.6 269.9,511.1" fill="#807e80" stroke="#807e80" stroke-width="0.55" stroke-linejoin="round" />
<polygon points="267.7,544.8 281.3,545.2 281.3,514.3 267.7,513.8" fill="#727072" stroke="#727072" stroke-width="0.55" stroke-linejoin="round" />
<polygon points="106.2,546.2 109.1,543.3 109.1,488.7 106.2,491.4" fill="#5a94d3" stroke="#5a94d3" stroke-width="0.55" stroke-linejoin="round" />
<polygon points="92.7,490.9 106.2,491.4 109.1,488.7 95.6,488.3" fill="#3f6698" stroke="#3f6698" stroke-width="0.55" stroke-linejoin="round" />
<polygon points="92.7,545.7 106.2,546.2 106.2,491.4 92.7,490.9" fill="#385c88" stroke="#385c88" stroke-width="0.55" stroke-linejoin="round" />
<polygon points="140.0,547.4 142.7,544.5 142.7,518.4 140.0,521.1" fill="#b7b5b7" stroke="#b7b5b7" stroke-width="0.55" stroke-linejoin="round" />
<polygon points="126.5,520.7 140.0,521.1 142.7,518.4 129.3,517.9" fill="#807e80" stroke="#807e80" stroke-width="0.55" stroke-linejoin="round" />
<polygon points="126.5,546.9 140.0,547.4 140.0,521.1 126.5,520.7" fill="#727072" stroke="#727072" stroke-width="0.55" stroke-linejoin="round" />
<polygon points="173.9,548.5 176.5,545.7 176.5,523.4 173.9,526.2" fill="#b7b5b7" stroke="#b7b5b7" stroke-width="0.55" stroke-linejoin="round" />
<polygon points="160.3,525.7 173.9,526.2 176.5,523.4 163.0,522.9" fill="#807e80" stroke="#807e80" stroke-width="0.55" stroke-linejoin="round" />
<polygon points="160.3,548.1 173.9,548.5 173.9,526.2 160.3,525.7" fill="#727072" stroke="#727072" stroke-width="0.55" stroke-linejoin="round" />
<polygon points="207.9,549.7 210.4,546.8 210.4,467.3 207.9,469.8" fill="#bf2020" stroke="#bf2020" stroke-width="0.55" stroke-linejoin="round" />
<polygon points="194.3,469.4 207.9,469.8 210.4,467.3 196.8,466.8" fill="#991a1a" stroke="#991a1a" stroke-width="0.55" stroke-linejoin="round" />
<polygon points="194.3,549.2 207.9,549.7 207.9,469.8 194.3,469.4" fill="#6b1e1d" stroke="#6b1e1d" stroke-width="0.55" stroke-linejoin="round" />
<polygon points="242.0,550.9 244.3,548.0 244.3,494.6 242.0,497.2" fill="#b7b5b7" stroke="#b7b5b7" stroke-width="0.55" stroke-linejoin="round" />
<polygon points="228.3,496.8 242.0,497.2 244.3,494.6 230.7,494.1" fill="#807e80" stroke="#807e80" stroke-width="0.55" stroke-linejoin="round" />
<polygon points="228.3,550.4 242.0,550.9 242.0,497.2 228.3,496.8" fill="#727072" stroke="#727072" stroke-width="0.55" stroke-linejoin="round" />
<polygon points="276.2,552.1 278.3,549.2 278.3,516.1 276.2,518.9" fill="#b7b5b7" stroke="#b7b5b7" stroke-width="0.55" stroke-linejoin="round" />
<polygon points="262.5,518.4 276.2,518.9 278.3,516.1 264.7,515.7" fill="#807e80" stroke="#807e80" stroke-width="0.55" stroke-linejoin="round" />
<polygon points="262.5,551.6 276.2,552.1 276.2,518.9 262.5,518.4" fill="#727072" stroke="#727072" stroke-width="0.55" stroke-linejoin="round" />
<polygon points="99.3,553.1 102.2,550.2 102.2,497.0 99.3,499.6" fill="#5a94d3" stroke="#5a94d3" stroke-width="0.55" stroke-linejoin="round" />
<polygon points="85.7,499.2 99.3,499.6 102.2,497.0 88.7,496.5" fill="#3f6698" stroke="#3f6698" stroke-width="0.55" stroke-linejoin="round" />
<polygon points="85.7,552.6 99.3,553.1 99.3,499.6 85.7,499.2" fill="#385c88" stroke="#385c88" stroke-width="0.55" stroke-linejoin="round" />
<polygon points="133.5,554.2 136.2,551.3 136.2,519.1 133.5,521.9" fill="#b7b5b7" stroke="#b7b5b7" stroke-width="0.55" stroke-linejoin="round" />
<polygon points="119.8,521.4 133.5,521.9 136.2,519.1 122.6,518.6" fill="#807e80" stroke="#807e80" stroke-width="0.55" stroke-linejoin="round" />
<polygon points="119.8,553.8 133.5,554.2 133.5,521.9 119.8,521.4" fill="#727072" stroke="#727072" stroke-width="0.55" stroke-linejoin="round" />
<polygon points="167.7,555.4 170.3,552.5 170.3,533.4 167.7,536.3" fill="#b7b5b7" stroke="#b7b5b7" stroke-width="0.55" stroke-linejoin="round" />
<polygon points="154.0,535.8 167.7,536.3 170.3,533.4 156.7,533.0" fill="#807e80" stroke="#807e80" stroke-width="0.55" stroke-linejoin="round" />
<polygon points="154.0,555.0 167.7,555.4 167.7,536.3 154.0,535.8" fill="#727072" stroke="#727072" stroke-width="0.55" stroke-linejoin="round" />
<polygon points="202.0,556.6 204.5,553.7 204.5,455.7 202.0,458.2" fill="#bf2020" stroke="#bf2020" stroke-width="0.55" stroke-linejoin="round" />
<polygon points="188.3,457.8 202.0,458.2 204.5,455.7 190.8,455.3" fill="#991a1a" stroke="#991a1a" stroke-width="0.55" stroke-linejoin="round" />
<polygon points="188.3,556.2 202.0,556.6 202.0,458.2 188.3,457.8" fill="#6b1e1d" stroke="#6b1e1d" stroke-width="0.55" stroke-linejoin="round" />
<polygon points="236.4,557.8 238.8,554.9 238.8,499.9 236.4,502.7" fill="#b7b5b7" stroke="#b7b5b7" stroke-width="0.55" stroke-linejoin="round" />
<polygon points="222.6,502.2 236.4,502.7 238.8,499.9 225.1,499.5" fill="#807e80" stroke="#807e80" stroke-width="0.55" stroke-linejoin="round" />
<polygon points="222.6,557.4 236.4,557.8 236.4,502.7 222.6,502.2" fill="#727072" stroke="#727072" stroke-width="0.55" stroke-linejoin="round" />
<polygon points="270.9,559.0 273.1,556.1 273.1,523.7 270.9,526.5" fill="#b7b5b7" stroke="#b7b5b7" stroke-width="0.55" stroke-linejoin="round" />
<polygon points="257.1,526.0 270.9,526.5 273.1,523.7 259.4,523.2" fill="#807e80" stroke="#807e80" stroke-width="0.55" stroke-linejoin="round" />
<polygon points="257.1,558.6 270.9,559.0 270.9,526.5 257.1,526.0" fill="#727072" stroke="#727072" stroke-width="0.55" stroke-linejoin="round" />
<polygon points="92.3,560.1 95.3,557.1 95.3,497.5 92.3,500.2" fill="#5a94d3" stroke="#5a94d3" stroke-width="0.55" stroke-linejoin="round" />
<polygon points="78.6,499.7 92.3,500.2 95.3,497.5 81.6,497.0" fill="#3f6698" stroke="#3f6698" stroke-width="0.55" stroke-linejoin="round" />
<polygon points="78.6,559.6 92.3,560.1 92.3,500.2 78.6,499.7" fill="#385c88" stroke="#385c88" stroke-width="0.55" stroke-linejoin="round" />
<polygon points="126.8,561.3 129.6,558.3 129.6,525.7 126.8,528.6" fill="#b7b5b7" stroke="#b7b5b7" stroke-width="0.55" stroke-linejoin="round" />
<polygon points="113.0,528.1 126.8,528.6 129.6,525.7 115.9,525.3" fill="#807e80" stroke="#807e80" stroke-width="0.55" stroke-linejoin="round" />
<polygon points="113.0,560.8 126.8,561.3 126.8,528.6 113.0,528.1" fill="#727072" stroke="#727072" stroke-width="0.55" stroke-linejoin="round" />
<polygon points="161.3,562.5 164.0,559.5 164.0,538.8 161.3,541.6" fill="#b7b5b7" stroke="#b7b5b7" stroke-width="0.55" stroke-linejoin="round" />
<polygon points="147.5,541.2 161.3,541.6 164.0,538.8 150.2,538.3" fill="#807e80" stroke="#807e80" stroke-width="0.55" stroke-linejoin="round" />
<polygon points="147.5,562.0 161.3,562.5 161.3,541.6 147.5,541.2" fill="#727072" stroke="#727072" stroke-width="0.55" stroke-linejoin="round" />
<polygon points="196.0,563.7 198.5,560.7 198.5,446.9 196.0,449.4" fill="#bf2020" stroke="#bf2020" stroke-width="0.55" stroke-linejoin="round" />
<polygon points="182.1,449.0 196.0,449.4 198.5,446.9 184.7,446.5" fill="#991a1a" stroke="#991a1a" stroke-width="0.55" stroke-linejoin="round" />
<polygon points="182.1,563.2 196.0,563.7 196.0,449.4 182.1,449.0" fill="#6b1e1d" stroke="#6b1e1d" stroke-width="0.55" stroke-linejoin="round" />
<polygon points="230.7,564.9 233.1,561.9 233.1,538.1 230.7,541.0" fill="#b7b5b7" stroke="#b7b5b7" stroke-width="0.55" stroke-linejoin="round" />
<polygon points="216.8,540.6 230.7,541.0 233.1,538.1 219.3,537.7" fill="#807e80" stroke="#807e80" stroke-width="0.55" stroke-linejoin="round" />
<polygon points="216.8,564.4 230.7,564.9 230.7,541.0 216.8,540.6" fill="#727072" stroke="#727072" stroke-width="0.55" stroke-linejoin="round" />
<polygon points="265.6,566.2 267.8,563.2 267.8,542.3 265.6,545.2" fill="#b7b5b7" stroke="#b7b5b7" stroke-width="0.55" stroke-linejoin="round" />
<polygon points="251.6,544.7 265.6,545.2 267.8,542.3 254.0,541.8" fill="#807e80" stroke="#807e80" stroke-width="0.55" stroke-linejoin="round" />
<polygon points="251.6,565.7 265.6,566.2 265.6,545.2 251.6,544.7" fill="#727072" stroke="#727072" stroke-width="0.55" stroke-linejoin="round" />
<polygon points="85.2,567.2 88.2,564.2 88.2,498.0 85.2,500.7" fill="#5a94d3" stroke="#5a94d3" stroke-width="0.55" stroke-linejoin="round" />
<polygon points="71.3,500.2 85.2,500.7 88.2,498.0 74.3,497.5" fill="#3f6698" stroke="#3f6698" stroke-width="0.55" stroke-linejoin="round" />
<polygon points="71.3,566.7 85.2,567.2 85.2,500.7 71.3,500.2" fill="#385c88" stroke="#385c88" stroke-width="0.55" stroke-linejoin="round" />
<polygon points="120.0,568.4 122.8,565.4 122.8,516.5 120.0,519.4" fill="#b7b5b7" stroke="#b7b5b7" stroke-width="0.55" stroke-linejoin="round" />
<polygon points="106.0,518.9 120.0,519.4 122.8,516.5 109.0,516.1" fill="#807e80" stroke="#807e80" stroke-width="0.55" stroke-linejoin="round" />
<polygon points="106.0,567.9 120.0,568.4 120.0,519.4 106.0,518.9" fill="#727072" stroke="#727072" stroke-width="0.55" stroke-linejoin="round" />
<polygon points="154.9,569.7 157.6,566.6 157.6,550.2 154.9,553.1" fill="#b7b5b7" stroke="#b7b5b7" stroke-width="0.55" stroke-linejoin="round" />
<polygon points="140.9,552.6 154.9,553.1 157.6,550.2 143.7,549.7" fill="#807e80" stroke="#807e80" stroke-width="0.55" stroke-linejoin="round" />
<polygon points="140.9,569.2 154.9,569.7 154.9,553.1 140.9,552.6" fill="#727072" stroke="#727072" stroke-width="0.55" stroke-linejoin="round" />
<polygon points="189.9,570.9 192.5,567.9 192.5,441.9 189.9,444.4" fill="#bf2020" stroke="#bf2020" stroke-width="0.55" stroke-linejoin="round" />
<polygon points="175.8,444.0 189.9,444.4 192.5,441.9 178.5,441.5" fill="#991a1a" stroke="#991a1a" stroke-width="0.55" stroke-linejoin="round" />
<polygon points="175.8,570.4 189.9,570.9 189.9,444.4 175.8,444.0" fill="#6b1e1d" stroke="#6b1e1d" stroke-width="0.55" stroke-linejoin="round" />
<polygon points="225.0,572.2 227.4,569.1 227.4,560.1 225.0,563.1" fill="#b7b5b7" stroke="#b7b5b7" stroke-width="0.55" stroke-linejoin="round" />
<polygon points="210.9,562.6 225.0,563.1 227.4,560.1 213.4,559.6" fill="#807e80" stroke="#807e80" stroke-width="0.55" stroke-linejoin="round" />
<polygon points="210.9,571.7 225.0,572.2 225.0,563.1 210.9,562.6" fill="#727072" stroke="#727072" stroke-width="0.55" stroke-linejoin="round" />
<polygon points="260.1,573.4 262.4,570.4 262.4,561.3 260.1,564.4" fill="#b7b5b7" stroke="#b7b5b7" stroke-width="0.55" stroke-linejoin="round" />
<polygon points="246.1,563.9 260.1,564.4 262.4,561.3 248.4,560.8" fill="#807e80" stroke="#807e80" stroke-width="0.55" stroke-linejoin="round" />
<polygon points="246.1,572.9 260.1,573.4 260.1,564.4 246.1,563.9" fill="#727072" stroke="#727072" stroke-width="0.55" stroke-linejoin="round" />
<text x="75.9" y="586.7" text-anchor="middle" font-size="15.8" font-family="Liberation Sans, sans-serif" fill="#1a1a1a">1</text>
<text x="110.8" y="587.8" text-anchor="middle" font-size="15.8" font-family="Liberation Sans, sans-serif" fill="#1a1a1a">2</text>
<text x="145.8" y="588.9" text-anchor="middle" font-size="15.8" font-family="Liberation Sans, sans-serif" fill="#1a1a1a">3</text>
<text x="180.9" y="589.9" text-anchor="middle" font-size="15.8" font-family="Liberation Sans, sans-serif" fill="#1a1a1a">4</text>
<text x="216.0" y="591.0" text-anchor="middle" font-size="15.8" font-family="Liberation Sans, sans-serif" fill="#1a1a1a">5</text>
<text x="251.3" y="592.1" text-anchor="middle" font-size="15.8" font-family="Liberation Sans, sans-serif" fill="#1a1a1a">6</text>
<text x="161.3" y="608.6" text-anchor="middle" font-size="15.4" font-family="Liberation Sans, sans-serif" fill="#1a1a1a" textLength="100.3" lengthAdjust="spacingAndGlyphs">Cluster number</text>
<text transform="translate(18.4,446.7) rotate(-90)" text-anchor="middle" font-size="15.3" font-family="Liberation Sans, sans-serif" fill="#1a1a1a" textLength="90" lengthAdjust="spacingAndGlyphs">Colony count</text>
<text x="275.9" y="582.7" font-size="15.3" font-family="Liberation Sans, sans-serif" fill="#1a1a1a">24</text>
<text x="322.3" y="512.3" font-size="15.3" font-family="Liberation Sans, sans-serif" fill="#1a1a1a">84</text>
<text transform="translate(317.4,547.5) rotate(-52.5)" text-anchor="middle" font-size="14.5" font-family="Liberation Sans, sans-serif" fill="#1a1a1a">Time [h]</text>
</g>
<g>
<polyline points="415.4,571.0 490.0,499.1 680.3,505.2" fill="none" stroke="#707070" stroke-width="1.2"/>
<line x1="410.8" y1="571.0" x2="415.4" y2="571.0" stroke="#a0a0a0" stroke-width="1"/>
<text x="403.0" y="576.4" text-anchor="end" font-size="15.3" font-family="Liberation Sans, sans-serif" fill="#1a1a1a">0</text>
<polyline points="415.3,550.5 490.0,480.7 680.3,486.3" fill="none" stroke="#707070" stroke-width="1.2"/>
<line x1="410.7" y1="550.5" x2="415.3" y2="550.5" stroke="#a0a0a0" stroke-width="1"/>
<text x="403.0" y="555.9" text-anchor="end" font-size="15.3" font-family="Liberation Sans, sans-serif" fill="#1a1a1a">20</text>
<polyline points="415.1,530.0 490.0,462.3 680.3,467.4" fill="none" stroke="#707070" stroke-width="1.2"/>
<line x1="410.5" y1="530.0" x2="415.1" y2="530.0" stroke="#a0a0a0" stroke-width="1"/>
<text x="403.0" y="535.4" text-anchor="end" font-size="15.3" font-family="Liberation Sans, sans-serif" fill="#1a1a1a">40</text>
<polyline points="415.0,509.4 490.0,443.9 680.3,448.6" fill="none" stroke="#707070" stroke-width="1.2"/>
<line x1="410.4" y1="509.4" x2="415.0" y2="509.4" stroke="#a0a0a0" stroke-width="1"/>
<text x="403.0" y="514.8" text-anchor="end" font-size="15.3" font-family="Liberation Sans, sans-serif" fill="#1a1a1a">60</text>
<polyline points="414.9,488.9 490.0,425.6 680.3,429.7" fill="none" stroke="#707070" stroke-width="1.2"/>
<line x1="410.3" y1="488.9" x2="414.9" y2="488.9" stroke="#a0a0a0" stroke-width="1"/>
<text x="403.0" y="494.3" text-anchor="end" font-size="15.3" font-family="Liberation Sans, sans-serif" fill="#1a1a1a">80</text>
<polyline points="414.8,468.4 490.0,407.2 680.3,410.8" fill="none" stroke="#707070" stroke-width="1.2"/>
<line x1="410.1" y1="468.4" x2="414.8" y2="468.4" stroke="#a0a0a0" stroke-width="1"/>
<text x="403.0" y="473.8" text-anchor="end" font-size="15.3" font-family="Liberation Sans, sans-serif" fill="#1a1a1a">100</text>
<polyline points="414.6,447.9 490.0,388.8 680.3,391.9" fill="none" stroke="#707070" stroke-width="1.2"/>
<line x1="410.0" y1="447.9" x2="414.6" y2="447.9" stroke="#a0a0a0" stroke-width="1"/>
<text x="403.0" y="453.3" text-anchor="end" font-size="15.3" font-family="Liberation Sans, sans-serif" fill="#1a1a1a">120</text>
<polyline points="414.5,427.4 490.0,370.4 680.3,373.0" fill="none" stroke="#707070" stroke-width="1.2"/>
<line x1="409.9" y1="427.4" x2="414.5" y2="427.4" stroke="#a0a0a0" stroke-width="1"/>
<text x="403.0" y="432.8" text-anchor="end" font-size="15.3" font-family="Liberation Sans, sans-serif" fill="#1a1a1a">140</text>
<polyline points="414.4,406.8 490.0,352.0 680.3,354.1" fill="none" stroke="#707070" stroke-width="1.2"/>
<line x1="409.8" y1="406.8" x2="414.4" y2="406.8" stroke="#a0a0a0" stroke-width="1"/>
<text x="403.0" y="412.2" text-anchor="end" font-size="15.3" font-family="Liberation Sans, sans-serif" fill="#1a1a1a">160</text>
<polyline points="414.2,386.3 490.0,333.6 680.3,335.3" fill="none" stroke="#707070" stroke-width="1.2"/>
<line x1="409.6" y1="386.3" x2="414.2" y2="386.3" stroke="#a0a0a0" stroke-width="1"/>
<text x="403.0" y="391.7" text-anchor="end" font-size="15.3" font-family="Liberation Sans, sans-serif" fill="#1a1a1a">180</text>
<polyline points="414.1,365.8 490.0,315.2 680.3,316.4" fill="none" stroke="#707070" stroke-width="1.2"/>
<line x1="409.5" y1="365.8" x2="414.1" y2="365.8" stroke="#a0a0a0" stroke-width="1"/>
<text x="403.0" y="371.2" text-anchor="end" font-size="15.3" font-family="Liberation Sans, sans-serif" fill="#1a1a1a">200</text>
<line x1="415.4" y1="571.0" x2="414.1" y2="365.8" stroke="#707070" stroke-width="1.3"/>
<polyline points="415.7,571.0 626.5,580.0 680.3,505.2" fill="none" stroke="#707070" stroke-width="1.2"/>
<line x1="415.7" y1="571.0" x2="415.7" y2="575.5" stroke="#707070" stroke-width="1"/>
<line x1="450.6" y1="572.5" x2="450.6" y2="577.0" stroke="#707070" stroke-width="1"/>
<line x1="485.6" y1="573.9" x2="485.6" y2="578.4" stroke="#707070" stroke-width="1"/>
<line x1="520.6" y1="575.4" x2="520.6" y2="579.9" stroke="#707070" stroke-width="1"/>
<line x1="555.8" y1="576.9" x2="555.8" y2="581.4" stroke="#707070" stroke-width="1"/>
<line x1="591.1" y1="578.5" x2="591.1" y2="583.0" stroke="#707070" stroke-width="1"/>
<line x1="626.5" y1="580.0" x2="626.5" y2="584.5" stroke="#707070" stroke-width="1"/>
<rect x="522.9" y="340" width="118.1" height="26.8" fill="#0f0f0f"/>
<text x="547.0" y="360.2" font-size="17.8" font-family="Liberation Sans, sans-serif" fill="#fff" textLength="66.5" lengthAdjust="spacingAndGlyphs">iPS - P4</text>
<polygon points="508.0,503.9 510.5,501.4 510.5,445.0 508.0,447.3" fill="#5a94d3" stroke="#5a94d3" stroke-width="0.55" stroke-linejoin="round" />
<polygon points="495.3,447.0 508.0,447.3 510.5,445.0 497.8,444.7" fill="#3f6698" stroke="#3f6698" stroke-width="0.55" stroke-linejoin="round" />
<polygon points="495.3,503.5 508.0,503.9 508.0,447.3 495.3,447.0" fill="#385c88" stroke="#385c88" stroke-width="0.55" stroke-linejoin="round" />
<polygon points="539.8,505.0 542.2,502.5 542.2,487.6 539.8,490.0" fill="#b7b5b7" stroke="#b7b5b7" stroke-width="0.55" stroke-linejoin="round" />
<polygon points="527.1,489.7 539.8,490.0 542.2,487.6 529.5,487.2" fill="#807e80" stroke="#807e80" stroke-width="0.55" stroke-linejoin="round" />
<polygon points="527.1,504.6 539.8,505.0 539.8,490.0 527.1,489.7" fill="#727072" stroke="#727072" stroke-width="0.55" stroke-linejoin="round" />
<polygon points="571.7,506.0 574.0,503.5 574.0,498.8 571.7,501.3" fill="#b7b5b7" stroke="#b7b5b7" stroke-width="0.55" stroke-linejoin="round" />
<polygon points="559.0,500.9 571.7,501.3 574.0,498.8 561.3,498.4" fill="#807e80" stroke="#807e80" stroke-width="0.55" stroke-linejoin="round" />
<polygon points="559.0,505.6 571.7,506.0 571.7,501.3 559.0,500.9" fill="#727072" stroke="#727072" stroke-width="0.55" stroke-linejoin="round" />
<polygon points="603.6,507.0 605.8,504.5 605.8,476.4 603.6,478.8" fill="#bf2020" stroke="#bf2020" stroke-width="0.55" stroke-linejoin="round" />
<polygon points="590.9,478.5 603.6,478.8 605.8,476.4 593.1,476.0" fill="#991a1a" stroke="#991a1a" stroke-width="0.55" stroke-linejoin="round" />
<polygon points="590.9,506.6 603.6,507.0 603.6,478.8 590.9,478.5" fill="#6b1e1d" stroke="#6b1e1d" stroke-width="0.55" stroke-linejoin="round" />
<polygon points="635.6,508.1 637.6,505.5 637.6,478.2 635.6,480.7" fill="#b7b5b7" stroke="#b7b5b7" stroke-width="0.55" stroke-linejoin="round" />
<polygon points="622.8,480.3 635.6,480.7 637.6,478.2 624.9,477.9" fill="#807e80" stroke="#807e80" stroke-width="0.55" stroke-linejoin="round" />
<polygon points="622.8,507.7 635.6,508.1 635.6,480.7 622.8,480.3" fill="#727072" stroke="#727072" stroke-width="0.55" stroke-linejoin="round" />
<polygon points="667.6,509.2 669.5,506.6 669.5,497.6 667.6,500.1" fill="#b7b5b7" stroke="#b7b5b7" stroke-width="0.55" stroke-linejoin="round" />
<polygon points="654.8,499.7 667.6,500.1 669.5,497.6 656.7,497.2" fill="#807e80" stroke="#807e80" stroke-width="0.55" stroke-linejoin="round" />
<polygon points="654.8,508.7 667.6,509.2 667.6,500.1 654.8,499.7" fill="#727072" stroke="#727072" stroke-width="0.55" stroke-linejoin="round" />
<polygon points="502.0,510.0 504.5,507.4 504.5,439.3 502.0,441.5" fill="#5a94d3" stroke="#5a94d3" stroke-width="0.55" stroke-linejoin="round" />
<polygon points="489.2,441.2 502.0,441.5 504.5,439.3 491.7,439.0" fill="#3f6698" stroke="#3f6698" stroke-width="0.55" stroke-linejoin="round" />
<polygon points="489.2,509.5 502.0,510.0 502.0,441.5 489.2,441.2" fill="#385c88" stroke="#385c88" stroke-width="0.55" stroke-linejoin="round" />
<polygon points="534.1,511.0 536.5,508.5 536.5,491.6 534.1,494.1" fill="#b7b5b7" stroke="#b7b5b7" stroke-width="0.55" stroke-linejoin="round" />
<polygon points="521.3,493.7 534.1,494.1 536.5,491.6 523.7,491.2" fill="#807e80" stroke="#807e80" stroke-width="0.55" stroke-linejoin="round" />
<polygon points="521.3,510.6 534.1,511.0 534.1,494.1 521.3,493.7" fill="#727072" stroke="#727072" stroke-width="0.55" stroke-linejoin="round" />
<polygon points="566.3,512.1 568.6,509.5 568.6,502.9 566.3,505.5" fill="#b7b5b7" stroke="#b7b5b7" stroke-width="0.55" stroke-linejoin="round" />
<polygon points="553.4,505.1 566.3,505.5 568.6,502.9 555.8,502.5" fill="#807e80" stroke="#807e80" stroke-width="0.55" stroke-linejoin="round" />
<polygon points="553.4,511.7 566.3,512.1 566.3,505.5 553.4,505.1" fill="#727072" stroke="#727072" stroke-width="0.55" stroke-linejoin="round" />
<polygon points="598.5,513.2 600.7,510.6 600.7,485.0 598.5,487.5" fill="#bf2020" stroke="#bf2020" stroke-width="0.55" stroke-linejoin="round" />
<polygon points="585.6,487.1 598.5,487.5 600.7,485.0 587.8,484.7" fill="#991a1a" stroke="#991a1a" stroke-width="0.55" stroke-linejoin="round" />
<polygon points="585.6,512.7 598.5,513.2 598.5,487.5 585.6,487.1" fill="#6b1e1d" stroke="#6b1e1d" stroke-width="0.55" stroke-linejoin="round" />
<polygon points="630.7,514.3 632.8,511.7 632.8,483.1 630.7,485.6" fill="#b7b5b7" stroke="#b7b5b7" stroke-width="0.55" stroke-linejoin="round" />
<polygon points="617.8,485.3 630.7,485.6 632.8,483.1 619.9,482.8" fill="#807e80" stroke="#807e80" stroke-width="0.55" stroke-linejoin="round" />
<polygon points="617.8,513.8 630.7,514.3 630.7,485.6 617.8,485.3" fill="#727072" stroke="#727072" stroke-width="0.55" stroke-linejoin="round" />
<polygon points="663.0,515.4 665.0,512.7 665.0,508.9 663.0,511.5" fill="#b7b5b7" stroke="#b7b5b7" stroke-width="0.55" stroke-linejoin="round" />
<polygon points="650.1,511.1 663.0,511.5 665.0,508.9 652.1,508.5" fill="#807e80" stroke="#807e80" stroke-width="0.55" stroke-linejoin="round" />
<polygon points="650.1,514.9 663.0,515.4 663.0,511.5 650.1,511.1" fill="#727072" stroke="#727072" stroke-width="0.55" stroke-linejoin="round" />
<polygon points="495.9,516.1 498.5,513.5 498.5,432.4 495.9,434.7" fill="#5a94d3" stroke="#5a94d3" stroke-width="0.55" stroke-linejoin="round" />
<polygon points="482.9,434.4 495.9,434.7 498.5,432.4 485.6,432.2" fill="#3f6698" stroke="#3f6698" stroke-width="0.55" stroke-linejoin="round" />
<polygon points="482.9,515.7 495.9,516.1 495.9,434.7 482.9,434.4" fill="#385c88" stroke="#385c88" stroke-width="0.55" stroke-linejoin="round" />
<polygon points="528.3,517.2 530.8,514.6 530.8,497.5 528.3,500.1" fill="#b7b5b7" stroke="#b7b5b7" stroke-width="0.55" stroke-linejoin="round" />
<polygon points="515.3,499.7 528.3,500.1 530.8,497.5 517.8,497.1" fill="#807e80" stroke="#807e80" stroke-width="0.55" stroke-linejoin="round" />
<polygon points="515.3,516.8 528.3,517.2 528.3,500.1 515.3,499.7" fill="#727072" stroke="#727072" stroke-width="0.55" stroke-linejoin="round" />
<polygon points="560.7,518.3 563.1,515.7 563.1,509.0 560.7,511.6" fill="#b7b5b7" stroke="#b7b5b7" stroke-width="0.55" stroke-linejoin="round" />
<polygon points="547.7,511.2 560.7,511.6 563.1,509.0 550.1,508.6" fill="#807e80" stroke="#807e80" stroke-width="0.55" stroke-linejoin="round" />
<polygon points="547.7,517.9 560.7,518.3 560.7,511.6 547.7,511.2" fill="#727072" stroke="#727072" stroke-width="0.55" stroke-linejoin="round" />
<polygon points="593.2,519.4 595.5,516.8 595.5,486.2 593.2,488.7" fill="#bf2020" stroke="#bf2020" stroke-width="0.55" stroke-linejoin="round" />
<polygon points="580.2,488.3 593.2,488.7 595.5,486.2 582.5,485.8" fill="#991a1a" stroke="#991a1a" stroke-width="0.55" stroke-linejoin="round" />
<polygon points="580.2,519.0 593.2,519.4 593.2,488.7 580.2,488.3" fill="#6b1e1d" stroke="#6b1e1d" stroke-width="0.55" stroke-linejoin="round" />
<polygon points="625.8,520.6 627.9,517.9 627.9,496.0 625.8,498.6" fill="#b7b5b7" stroke="#b7b5b7" stroke-width="0.55" stroke-linejoin="round" />
<polygon points="612.8,498.2 625.8,498.6 627.9,496.0 614.9,495.6" fill="#807e80" stroke="#807e80" stroke-width="0.55" stroke-linejoin="round" />
<polygon points="612.8,520.1 625.8,520.6 625.8,498.6 612.8,498.2" fill="#727072" stroke="#727072" stroke-width="0.55" stroke-linejoin="round" />
<polygon points="658.4,521.7 660.4,519.0 660.4,516.1 658.4,518.8" fill="#b7b5b7" stroke="#b7b5b7" stroke-width="0.55" stroke-linejoin="round" />
<polygon points="645.3,518.3 658.4,518.8 660.4,516.1 647.4,515.7" fill="#807e80" stroke="#807e80" stroke-width="0.55" stroke-linejoin="round" />
<polygon points="645.3,521.2 658.4,521.7 658.4,518.8 645.3,518.3" fill="#727072" stroke="#727072" stroke-width="0.55" stroke-linejoin="round" />
<polygon points="489.6,522.3 492.3,519.7 492.3,446.4 489.6,448.8" fill="#5a94d3" stroke="#5a94d3" stroke-width="0.55" stroke-linejoin="round" />
<polygon points="476.6,448.4 489.6,448.8 492.3,446.4 479.3,446.1" fill="#3f6698" stroke="#3f6698" stroke-width="0.55" stroke-linejoin="round" />
<polygon points="476.6,521.9 489.6,522.3 489.6,448.8 476.6,448.4" fill="#385c88" stroke="#385c88" stroke-width="0.55" stroke-linejoin="round" />
<polygon points="522.3,523.5 524.8,520.8 524.8,502.7 522.3,505.2" fill="#b7b5b7" stroke="#b7b5b7" stroke-width="0.55" stroke-linejoin="round" />
<polygon points="509.3,504.8 522.3,505.2 524.8,502.7 511.8,502.2" fill="#807e80" stroke="#807e80" stroke-width="0.55" stroke-linejoin="round" />
<polygon points="509.3,523.0 522.3,523.5 522.3,505.2 509.3,504.8" fill="#727072" stroke="#727072" stroke-width="0.55" stroke-linejoin="round" />
<polygon points="555.1,524.6 557.5,522.0 557.5,516.2 555.1,518.9" fill="#b7b5b7" stroke="#b7b5b7" stroke-width="0.55" stroke-linejoin="round" />
<polygon points="542.0,518.4 555.1,518.9 557.5,516.2 544.4,515.8" fill="#807e80" stroke="#807e80" stroke-width="0.55" stroke-linejoin="round" />
<polygon points="542.0,524.2 555.1,524.6 555.1,518.9 542.0,518.4" fill="#727072" stroke="#727072" stroke-width="0.55" stroke-linejoin="round" />
<polygon points="587.9,525.8 590.1,523.1 590.1,491.3 587.9,493.8" fill="#bf2020" stroke="#bf2020" stroke-width="0.55" stroke-linejoin="round" />
<polygon points="574.7,493.4 587.9,493.8 590.1,491.3 577.1,490.9" fill="#991a1a" stroke="#991a1a" stroke-width="0.55" stroke-linejoin="round" />
<polygon points="574.7,525.3 587.9,525.8 587.9,493.8 574.7,493.4" fill="#6b1e1d" stroke="#6b1e1d" stroke-width="0.55" stroke-linejoin="round" />
<polygon points="620.7,527.0 622.9,524.3 622.9,503.3 620.7,505.9" fill="#b7b5b7" stroke="#b7b5b7" stroke-width="0.55" stroke-linejoin="round" />
<polygon points="607.6,505.5 620.7,505.9 622.9,503.3 609.8,502.9" fill="#807e80" stroke="#807e80" stroke-width="0.55" stroke-linejoin="round" />
<polygon points="607.6,526.5 620.7,527.0 620.7,505.9 607.6,505.5" fill="#727072" stroke="#727072" stroke-width="0.55" stroke-linejoin="round" />
<polygon points="653.6,528.2 655.6,525.4 655.6,525.0 653.6,527.8" fill="#b7b5b7" stroke="#b7b5b7" stroke-width="0.55" stroke-linejoin="round" />
<polygon points="640.5,527.3 653.6,527.8 655.6,525.0 642.5,524.6" fill="#807e80" stroke="#807e80" stroke-width="0.55" stroke-linejoin="round" />
<polygon points="640.5,527.7 653.6,528.2 653.6,527.8 640.5,527.3" fill="#727072" stroke="#727072" stroke-width="0.55" stroke-linejoin="round" />
<polygon points="483.3,528.7 486.0,526.0 486.0,444.3 483.3,446.7" fill="#5a94d3" stroke="#5a94d3" stroke-width="0.55" stroke-linejoin="round" />
<polygon points="470.1,446.4 483.3,446.7 486.0,444.3 472.8,444.0" fill="#3f6698" stroke="#3f6698" stroke-width="0.55" stroke-linejoin="round" />
<polygon points="470.1,528.3 483.3,528.7 483.3,446.7 470.1,446.4" fill="#385c88" stroke="#385c88" stroke-width="0.55" stroke-linejoin="round" />
<polygon points="516.3,529.9 518.8,527.2 518.8,509.8 516.3,512.5" fill="#b7b5b7" stroke="#b7b5b7" stroke-width="0.55" stroke-linejoin="round" />
<polygon points="503.1,512.0 516.3,512.5 518.8,509.8 505.7,509.4" fill="#807e80" stroke="#807e80" stroke-width="0.55" stroke-linejoin="round" />
<polygon points="503.1,529.4 516.3,529.9 516.3,512.5 503.1,512.0" fill="#727072" stroke="#727072" stroke-width="0.55" stroke-linejoin="round" />
<polygon points="549.3,531.1 551.7,528.4 551.7,522.5 549.3,525.3" fill="#b7b5b7" stroke="#b7b5b7" stroke-width="0.55" stroke-linejoin="round" />
<polygon points="536.1,524.8 549.3,525.3 551.7,522.5 538.6,522.1" fill="#807e80" stroke="#807e80" stroke-width="0.55" stroke-linejoin="round" />
<polygon points="536.1,530.6 549.3,531.1 549.3,525.3 536.1,524.8" fill="#727072" stroke="#727072" stroke-width="0.55" stroke-linejoin="round" />
<polygon points="582.4,532.3 584.7,529.6 584.7,496.4 582.4,499.0" fill="#bf2020" stroke="#bf2020" stroke-width="0.55" stroke-linejoin="round" />
<polygon points="569.2,498.6 582.4,499.0 584.7,496.4 571.5,496.0" fill="#991a1a" stroke="#991a1a" stroke-width="0.55" stroke-linejoin="round" />
<polygon points="569.2,531.8 582.4,532.3 582.4,499.0 569.2,498.6" fill="#6b1e1d" stroke="#6b1e1d" stroke-width="0.55" stroke-linejoin="round" />
<polygon points="615.6,533.5 617.7,530.8 617.7,509.2 615.6,511.9" fill="#b7b5b7" stroke="#b7b5b7" stroke-width="0.55" stroke-linejoin="round" />
<polygon points="602.3,511.4 615.6,511.9 617.7,509.2 604.5,508.8" fill="#807e80" stroke="#807e80" stroke-width="0.55" stroke-linejoin="round" />
<polygon points="602.3,533.0 615.6,533.5 615.6,511.9 602.3,511.4" fill="#727072" stroke="#727072" stroke-width="0.55" stroke-linejoin="round" />
<polygon points="648.8,534.7 650.8,532.0 650.8,531.6 648.8,534.3" fill="#b7b5b7" stroke="#b7b5b7" stroke-width="0.55" stroke-linejoin="round" />
<polygon points="635.5,533.9 648.8,534.3 650.8,531.6 637.6,531.1" fill="#807e80" stroke="#807e80" stroke-width="0.55" stroke-linejoin="round" />
<polygon points="635.5,534.3 648.8,534.7 648.8,534.3 635.5,533.9" fill="#727072" stroke="#727072" stroke-width="0.55" stroke-linejoin="round" />
<polygon points="476.8,535.2 479.5,532.5 479.5,447.1 476.8,449.4" fill="#5a94d3" stroke="#5a94d3" stroke-width="0.55" stroke-linejoin="round" />
<polygon points="463.5,449.1 476.8,449.4 479.5,447.1 466.3,446.7" fill="#3f6698" stroke="#3f6698" stroke-width="0.55" stroke-linejoin="round" />
<polygon points="463.5,534.7 476.8,535.2 476.8,449.4 463.5,449.1" fill="#385c88" stroke="#385c88" stroke-width="0.55" stroke-linejoin="round" />
<polygon points="510.1,536.5 512.7,533.7 512.7,510.3 510.1,513.0" fill="#b7b5b7" stroke="#b7b5b7" stroke-width="0.55" stroke-linejoin="round" />
<polygon points="496.8,512.5 510.1,513.0 512.7,510.3 499.4,509.8" fill="#807e80" stroke="#807e80" stroke-width="0.55" stroke-linejoin="round" />
<polygon points="496.8,536.0 510.1,536.5 510.1,513.0 496.8,512.5" fill="#727072" stroke="#727072" stroke-width="0.55" stroke-linejoin="round" />
<polygon points="543.4,537.7 545.9,534.9 545.9,530.0 543.4,532.8" fill="#b7b5b7" stroke="#b7b5b7" stroke-width="0.55" stroke-linejoin="round" />
<polygon points="530.1,532.3 543.4,532.8 545.9,530.0 532.6,529.5" fill="#807e80" stroke="#807e80" stroke-width="0.55" stroke-linejoin="round" />
<polygon points="530.1,537.2 543.4,537.7 543.4,532.8 530.1,532.3" fill="#727072" stroke="#727072" stroke-width="0.55" stroke-linejoin="round" />
<polygon points="576.8,538.9 579.2,536.1 579.2,503.6 576.8,506.3" fill="#bf2020" stroke="#bf2020" stroke-width="0.55" stroke-linejoin="round" />
<polygon points="563.4,505.9 576.8,506.3 579.2,503.6 565.9,503.2" fill="#991a1a" stroke="#991a1a" stroke-width="0.55" stroke-linejoin="round" />
<polygon points="563.4,538.4 576.8,538.9 576.8,506.3 563.4,505.9" fill="#6b1e1d" stroke="#6b1e1d" stroke-width="0.55" stroke-linejoin="round" />
<polygon points="610.3,540.2 612.5,537.4 612.5,523.0 610.3,525.8" fill="#b7b5b7" stroke="#b7b5b7" stroke-width="0.55" stroke-linejoin="round" />
<polygon points="596.9,525.3 610.3,525.8 612.5,523.0 599.2,522.6" fill="#807e80" stroke="#807e80" stroke-width="0.55" stroke-linejoin="round" />
<polygon points="596.9,539.7 610.3,540.2 610.3,525.8 596.9,525.3" fill="#727072" stroke="#727072" stroke-width="0.55" stroke-linejoin="round" />
<polygon points="643.9,541.5 645.9,538.6 645.9,538.2 643.9,541.1" fill="#b7b5b7" stroke="#b7b5b7" stroke-width="0.55" stroke-linejoin="round" />
<polygon points="630.4,540.6 643.9,541.1 645.9,538.2 632.6,537.7" fill="#807e80" stroke="#807e80" stroke-width="0.55" stroke-linejoin="round" />
<polygon points="630.4,541.0 643.9,541.5 643.9,541.1 630.4,540.6" fill="#727072" stroke="#727072" stroke-width="0.55" stroke-linejoin="round" />
<polygon points="470.2,541.9 473.0,539.1 473.0,428.3 470.2,430.6" fill="#5a94d3" stroke="#5a94d3" stroke-width="0.55" stroke-linejoin="round" />
<polygon points="456.8,430.3 470.2,430.6 473.0,428.3 459.6,428.0" fill="#3f6698" stroke="#3f6698" stroke-width="0.55" stroke-linejoin="round" />
<polygon points="456.8,541.4 470.2,541.9 470.2,430.6 456.8,430.3" fill="#385c88" stroke="#385c88" stroke-width="0.55" stroke-linejoin="round" />
<polygon points="503.8,543.1 506.4,540.3 506.4,503.9 503.8,506.5" fill="#b7b5b7" stroke="#b7b5b7" stroke-width="0.55" stroke-linejoin="round" />
<polygon points="490.3,506.1 503.8,506.5 506.4,503.9 493.0,503.4" fill="#807e80" stroke="#807e80" stroke-width="0.55" stroke-linejoin="round" />
<polygon points="490.3,542.6 503.8,543.1 503.8,506.5 490.3,506.1" fill="#727072" stroke="#727072" stroke-width="0.55" stroke-linejoin="round" />
<polygon points="537.4,544.4 539.9,541.6 539.9,536.6 537.4,539.4" fill="#b7b5b7" stroke="#b7b5b7" stroke-width="0.55" stroke-linejoin="round" />
<polygon points="523.9,538.9 537.4,539.4 539.9,536.6 526.5,536.1" fill="#807e80" stroke="#807e80" stroke-width="0.55" stroke-linejoin="round" />
<polygon points="523.9,543.9 537.4,544.4 537.4,539.4 523.9,538.9" fill="#727072" stroke="#727072" stroke-width="0.55" stroke-linejoin="round" />
<polygon points="571.1,545.7 573.5,542.8 573.5,513.0 571.1,515.7" fill="#bf2020" stroke="#bf2020" stroke-width="0.55" stroke-linejoin="round" />
<polygon points="557.6,515.3 571.1,515.7 573.5,513.0 560.1,512.6" fill="#991a1a" stroke="#991a1a" stroke-width="0.55" stroke-linejoin="round" />
<polygon points="557.6,545.2 571.1,545.7 571.1,515.7 557.6,515.3" fill="#6b1e1d" stroke="#6b1e1d" stroke-width="0.55" stroke-linejoin="round" />
<polygon points="604.9,547.0 607.2,544.1 607.2,531.1 604.9,534.0" fill="#b7b5b7" stroke="#b7b5b7" stroke-width="0.55" stroke-linejoin="round" />
<polygon points="591.4,533.5 604.9,534.0 607.2,531.1 593.7,530.7" fill="#807e80" stroke="#807e80" stroke-width="0.55" stroke-linejoin="round" />
<polygon points="591.4,546.5 604.9,547.0 604.9,534.0 591.4,533.5" fill="#727072" stroke="#727072" stroke-width="0.55" stroke-linejoin="round" />
<polygon points="638.8,548.3 640.9,545.4 640.9,545.0 638.8,547.9" fill="#b7b5b7" stroke="#b7b5b7" stroke-width="0.55" stroke-linejoin="round" />
<polygon points="625.2,547.4 638.8,547.9 640.9,545.0 627.4,544.5" fill="#807e80" stroke="#807e80" stroke-width="0.55" stroke-linejoin="round" />
<polygon points="625.2,547.8 638.8,548.3 638.8,547.9 625.2,547.4" fill="#727072" stroke="#727072" stroke-width="0.55" stroke-linejoin="round" />
<polygon points="463.4,548.6 466.3,545.8 466.3,386.8 463.4,389.0" fill="#5a94d3" stroke="#5a94d3" stroke-width="0.55" stroke-linejoin="round" />
<polygon points="449.9,388.8 463.4,389.0 466.3,386.8 452.8,386.6" fill="#3f6698" stroke="#3f6698" stroke-width="0.55" stroke-linejoin="round" />
<polygon points="449.9,548.1 463.4,548.6 463.4,389.0 449.9,388.8" fill="#385c88" stroke="#385c88" stroke-width="0.55" stroke-linejoin="round" />
<polygon points="497.3,550.0 500.0,547.1 500.0,522.2 497.3,525.0" fill="#b7b5b7" stroke="#b7b5b7" stroke-width="0.55" stroke-linejoin="round" />
<polygon points="483.7,524.5 497.3,525.0 500.0,522.2 486.5,521.7" fill="#807e80" stroke="#807e80" stroke-width="0.55" stroke-linejoin="round" />
<polygon points="483.7,549.4 497.3,550.0 497.3,525.0 483.7,524.5" fill="#727072" stroke="#727072" stroke-width="0.55" stroke-linejoin="round" />
<polygon points="531.3,551.3 533.9,548.4 533.9,542.4 531.3,545.3" fill="#b7b5b7" stroke="#b7b5b7" stroke-width="0.55" stroke-linejoin="round" />
<polygon points="517.7,544.7 531.3,545.3 533.9,542.4 520.3,541.9" fill="#807e80" stroke="#807e80" stroke-width="0.55" stroke-linejoin="round" />
<polygon points="517.7,550.8 531.3,551.3 531.3,545.3 517.7,544.7" fill="#727072" stroke="#727072" stroke-width="0.55" stroke-linejoin="round" />
<polygon points="565.3,552.6 567.8,549.7 567.8,511.5 565.3,514.3" fill="#bf2020" stroke="#bf2020" stroke-width="0.55" stroke-linejoin="round" />
<polygon points="551.7,513.8 565.3,514.3 567.8,511.5 554.2,511.1" fill="#991a1a" stroke="#991a1a" stroke-width="0.55" stroke-linejoin="round" />
<polygon points="551.7,552.1 565.3,552.6 565.3,514.3 551.7,513.8" fill="#6b1e1d" stroke="#6b1e1d" stroke-width="0.55" stroke-linejoin="round" />
<polygon points="599.4,554.0 601.8,551.0 601.8,546.6 599.4,549.5" fill="#b7b5b7" stroke="#b7b5b7" stroke-width="0.55" stroke-linejoin="round" />
<polygon points="585.8,549.0 599.4,549.5 601.8,546.6 588.2,546.1" fill="#807e80" stroke="#807e80" stroke-width="0.55" stroke-linejoin="round" />
<polygon points="585.8,553.4 599.4,554.0 599.4,549.5 585.8,549.0" fill="#727072" stroke="#727072" stroke-width="0.55" stroke-linejoin="round" />
<polygon points="633.7,555.3 635.8,552.4 635.8,552.0 633.7,554.9" fill="#b7b5b7" stroke="#b7b5b7" stroke-width="0.55" stroke-linejoin="round" />
<polygon points="620.0,554.4 633.7,554.9 635.8,552.0 622.2,551.4" fill="#807e80" stroke="#807e80" stroke-width="0.55" stroke-linejoin="round" />
<polygon points="620.0,554.8 633.7,555.3 633.7,554.9 620.0,554.4" fill="#727072" stroke="#727072" stroke-width="0.55" stroke-linejoin="round" />
<polygon points="456.5,555.6 459.4,552.6 459.4,413.5 456.5,415.9" fill="#5a94d3" stroke="#5a94d3" stroke-width="0.55" stroke-linejoin="round" />
<polygon points="442.9,415.6 456.5,415.9 459.4,413.5 445.8,413.3" fill="#3f6698" stroke="#3f6698" stroke-width="0.55" stroke-linejoin="round" />
<polygon points="442.9,555.0 456.5,555.6 456.5,415.9 442.9,415.6" fill="#385c88" stroke="#385c88" stroke-width="0.55" stroke-linejoin="round" />
<polygon points="490.7,556.9 493.5,554.0 493.5,530.9 490.7,533.7" fill="#b7b5b7" stroke="#b7b5b7" stroke-width="0.55" stroke-linejoin="round" />
<polygon points="477.0,533.2 490.7,533.7 493.5,530.9 479.9,530.4" fill="#807e80" stroke="#807e80" stroke-width="0.55" stroke-linejoin="round" />
<polygon points="477.0,556.4 490.7,556.9 490.7,533.7 477.0,533.2" fill="#727072" stroke="#727072" stroke-width="0.55" stroke-linejoin="round" />
<polygon points="525.0,558.3 527.7,555.3 527.7,552.3 525.0,555.2" fill="#b7b5b7" stroke="#b7b5b7" stroke-width="0.55" stroke-linejoin="round" />
<polygon points="511.3,554.7 525.0,555.2 527.7,552.3 514.0,551.8" fill="#807e80" stroke="#807e80" stroke-width="0.55" stroke-linejoin="round" />
<polygon points="511.3,557.7 525.0,558.3 525.0,555.2 511.3,554.7" fill="#727072" stroke="#727072" stroke-width="0.55" stroke-linejoin="round" />
<polygon points="559.4,559.7 561.9,556.7 561.9,517.1 559.4,519.9" fill="#bf2020" stroke="#bf2020" stroke-width="0.55" stroke-linejoin="round" />
<polygon points="545.6,519.4 559.4,519.9 561.9,517.1 548.2,516.6" fill="#991a1a" stroke="#991a1a" stroke-width="0.55" stroke-linejoin="round" />
<polygon points="545.6,559.1 559.4,559.7 559.4,519.9 545.6,519.4" fill="#6b1e1d" stroke="#6b1e1d" stroke-width="0.55" stroke-linejoin="round" />
<polygon points="593.8,561.1 596.2,558.1 596.2,553.2 593.8,556.2" fill="#b7b5b7" stroke="#b7b5b7" stroke-width="0.55" stroke-linejoin="round" />
<polygon points="580.0,555.6 593.8,556.2 596.2,553.2 582.5,552.6" fill="#807e80" stroke="#807e80" stroke-width="0.55" stroke-linejoin="round" />
<polygon points="580.0,560.5 593.8,561.1 593.8,556.2 580.0,555.6" fill="#727072" stroke="#727072" stroke-width="0.55" stroke-linejoin="round" />
<polygon points="628.4,562.5 630.6,559.5 630.6,559.1 628.4,562.1" fill="#b7b5b7" stroke="#b7b5b7" stroke-width="0.55" stroke-linejoin="round" />
<polygon points="614.6,561.5 628.4,562.1 630.6,559.1 616.8,558.5" fill="#807e80" stroke="#807e80" stroke-width="0.55" stroke-linejoin="round" />
<polygon points="614.6,561.9 628.4,562.5 628.4,562.1 614.6,561.5" fill="#727072" stroke="#727072" stroke-width="0.55" stroke-linejoin="round" />
<polygon points="449.5,562.6 452.5,559.6 452.5,414.0 449.5,416.4" fill="#5a94d3" stroke="#5a94d3" stroke-width="0.55" stroke-linejoin="round" />
<polygon points="435.7,416.1 449.5,416.4 452.5,414.0 438.7,413.8" fill="#3f6698" stroke="#3f6698" stroke-width="0.55" stroke-linejoin="round" />
<polygon points="435.7,562.1 449.5,562.6 449.5,416.4 435.7,416.1" fill="#385c88" stroke="#385c88" stroke-width="0.55" stroke-linejoin="round" />
<polygon points="484.0,564.0 486.8,561.0 486.8,534.6 484.0,537.5" fill="#b7b5b7" stroke="#b7b5b7" stroke-width="0.55" stroke-linejoin="round" />
<polygon points="470.2,537.0 484.0,537.5 486.8,534.6 473.1,534.1" fill="#807e80" stroke="#807e80" stroke-width="0.55" stroke-linejoin="round" />
<polygon points="470.2,563.5 484.0,564.0 484.0,537.5 470.2,537.0" fill="#727072" stroke="#727072" stroke-width="0.55" stroke-linejoin="round" />
<polygon points="518.6,565.5 521.3,562.4 521.3,555.8 518.6,558.8" fill="#b7b5b7" stroke="#b7b5b7" stroke-width="0.55" stroke-linejoin="round" />
<polygon points="504.8,558.2 518.6,558.8 521.3,555.8 507.5,555.2" fill="#807e80" stroke="#807e80" stroke-width="0.55" stroke-linejoin="round" />
<polygon points="504.8,564.9 518.6,565.5 518.6,558.8 504.8,558.2" fill="#727072" stroke="#727072" stroke-width="0.55" stroke-linejoin="round" />
<polygon points="553.3,566.9 555.9,563.8 555.9,531.0 553.3,533.9" fill="#bf2020" stroke="#bf2020" stroke-width="0.55" stroke-linejoin="round" />
<polygon points="539.4,533.4 553.3,533.9 555.9,531.0 542.0,530.5" fill="#991a1a" stroke="#991a1a" stroke-width="0.55" stroke-linejoin="round" />
<polygon points="539.4,566.3 553.3,566.9 553.3,533.9 539.4,533.4" fill="#6b1e1d" stroke="#6b1e1d" stroke-width="0.55" stroke-linejoin="round" />
<polygon points="588.1,568.3 590.5,565.3 590.5,564.9 588.1,567.9" fill="#b7b5b7" stroke="#b7b5b7" stroke-width="0.55" stroke-linejoin="round" />
<polygon points="574.2,567.3 588.1,567.9 590.5,564.9 576.7,564.3" fill="#807e80" stroke="#807e80" stroke-width="0.55" stroke-linejoin="round" />
<polygon points="574.2,567.8 588.1,568.3 588.1,567.9 574.2,567.3" fill="#727072" stroke="#727072" stroke-width="0.55" stroke-linejoin="round" />
<polygon points="623.0,569.8 625.3,566.7 625.3,566.3 623.0,569.4" fill="#b7b5b7" stroke="#b7b5b7" stroke-width="0.55" stroke-linejoin="round" />
<polygon points="609.1,568.8 623.0,569.4 625.3,566.3 611.4,565.7" fill="#807e80" stroke="#807e80" stroke-width="0.55" stroke-linejoin="round" />
<polygon points="609.1,569.2 623.0,569.8 623.0,569.4 609.1,568.8" fill="#727072" stroke="#727072" stroke-width="0.55" stroke-linejoin="round" />
<polygon points="442.3,569.8 445.3,566.8 445.3,395.1 442.3,397.4" fill="#5a94d3" stroke="#5a94d3" stroke-width="0.55" stroke-linejoin="round" />
<polygon points="428.4,397.2 442.3,397.4 445.3,395.1 431.5,394.9" fill="#3f6698" stroke="#3f6698" stroke-width="0.55" stroke-linejoin="round" />
<polygon points="428.4,569.3 442.3,569.8 442.3,397.4 428.4,397.2" fill="#385c88" stroke="#385c88" stroke-width="0.55" stroke-linejoin="round" />
<polygon points="477.1,571.3 480.0,568.2 480.0,541.5 477.1,544.5" fill="#b7b5b7" stroke="#b7b5b7" stroke-width="0.55" stroke-linejoin="round" />
<polygon points="463.2,543.9 477.1,544.5 480.0,541.5 466.1,541.0" fill="#807e80" stroke="#807e80" stroke-width="0.55" stroke-linejoin="round" />
<polygon points="463.2,570.7 477.1,571.3 477.1,544.5 463.2,543.9" fill="#727072" stroke="#727072" stroke-width="0.55" stroke-linejoin="round" />
<polygon points="512.1,572.8 514.8,569.7 514.8,563.0 512.1,566.0" fill="#b7b5b7" stroke="#b7b5b7" stroke-width="0.55" stroke-linejoin="round" />
<polygon points="498.1,565.4 512.1,566.0 514.8,563.0 500.9,562.4" fill="#807e80" stroke="#807e80" stroke-width="0.55" stroke-linejoin="round" />
<polygon points="498.1,572.2 512.1,572.8 512.1,566.0 498.1,565.4" fill="#727072" stroke="#727072" stroke-width="0.55" stroke-linejoin="round" />
<polygon points="547.1,574.2 549.7,571.1 549.7,538.4 547.1,541.3" fill="#bf2020" stroke="#bf2020" stroke-width="0.55" stroke-linejoin="round" />
<polygon points="533.1,540.8 547.1,541.3 549.7,538.4 535.8,537.8" fill="#991a1a" stroke="#991a1a" stroke-width="0.55" stroke-linejoin="round" />
<polygon points="533.1,573.7 547.1,574.2 547.1,541.3 533.1,540.8" fill="#6b1e1d" stroke="#6b1e1d" stroke-width="0.55" stroke-linejoin="round" />
<polygon points="582.3,575.7 584.7,572.6 584.7,572.2 582.3,575.3" fill="#b7b5b7" stroke="#b7b5b7" stroke-width="0.55" stroke-linejoin="round" />
<polygon points="568.2,574.7 582.3,575.3 584.7,572.2 570.7,571.6" fill="#807e80" stroke="#807e80" stroke-width="0.55" stroke-linejoin="round" />
<polygon points="568.2,575.1 582.3,575.7 582.3,575.3 568.2,574.7" fill="#727072" stroke="#727072" stroke-width="0.55" stroke-linejoin="round" />
<polygon points="617.5,577.3 619.9,574.1 619.9,573.7 617.5,576.8" fill="#b7b5b7" stroke="#b7b5b7" stroke-width="0.55" stroke-linejoin="round" />
<polygon points="603.4,576.2 617.5,576.8 619.9,573.7 605.8,573.1" fill="#807e80" stroke="#807e80" stroke-width="0.55" stroke-linejoin="round" />
<polygon points="603.4,576.7 617.5,577.3 617.5,576.8 603.4,576.2" fill="#727072" stroke="#727072" stroke-width="0.55" stroke-linejoin="round" />
<text x="433.0" y="589.3" text-anchor="middle" font-size="15.8" font-family="Liberation Sans, sans-serif" fill="#1a1a1a">1</text>
<text x="468.0" y="590.6" text-anchor="middle" font-size="15.8" font-family="Liberation Sans, sans-serif" fill="#1a1a1a">2</text>
<text x="503.0" y="591.9" text-anchor="middle" font-size="15.8" font-family="Liberation Sans, sans-serif" fill="#1a1a1a">3</text>
<text x="538.1" y="593.3" text-anchor="middle" font-size="15.8" font-family="Liberation Sans, sans-serif" fill="#1a1a1a">4</text>
<text x="573.3" y="594.6" text-anchor="middle" font-size="15.8" font-family="Liberation Sans, sans-serif" fill="#1a1a1a">5</text>
<text x="608.7" y="596.0" text-anchor="middle" font-size="15.8" font-family="Liberation Sans, sans-serif" fill="#1a1a1a">6</text>
<text x="523.0" y="611.7" text-anchor="middle" font-size="15.4" font-family="Liberation Sans, sans-serif" fill="#1a1a1a" textLength="100.3" lengthAdjust="spacingAndGlyphs">Cluster number</text>
<text transform="translate(376.5,446.7) rotate(-90)" text-anchor="middle" font-size="15.3" font-family="Liberation Sans, sans-serif" fill="#1a1a1a" textLength="90" lengthAdjust="spacingAndGlyphs">Colony count</text>
<text x="636.3" y="586.7" font-size="15.3" font-family="Liberation Sans, sans-serif" fill="#1a1a1a">24</text>
<text x="682.8" y="514.5" font-size="15.3" font-family="Liberation Sans, sans-serif" fill="#1a1a1a">84</text>
<text transform="translate(674.9,550.6) rotate(-52.5)" text-anchor="middle" font-size="14.5" font-family="Liberation Sans, sans-serif" fill="#1a1a1a">Time [h]</text>
</g>
<text x="20.2" y="669" font-size="23.6" font-family="Liberation Sans, sans-serif" fill="#111">c</text>
<text x="158.1" y="671.8" text-anchor="middle" font-size="15.6" font-family="Liberation Sans, sans-serif" fill="#1a1a1a" textLength="62.3" lengthAdjust="spacingAndGlyphs">Cluster 1</text>
<clipPath id="ci0"><rect x="86.1" y="678" width="132.3" height="136.8"/></clipPath>
<clipPath id="co0"><path d="M167.7,732.0C168.3,730.2 169.1,730.0 170.6,729.6C172.1,729.2 174.7,729.2 176.8,729.6C179.0,730.1 181.1,731.6 183.5,732.5C185.9,733.5 189.1,734.3 191.2,735.4C193.3,736.4 195.0,737.2 196.0,738.7C196.9,740.3 196.9,742.8 196.9,744.5C197.0,746.2 197.3,747.8 196.5,748.8C195.7,749.8 194.3,750.3 192.1,750.7C190.0,751.1 186.4,751.3 183.5,751.2C180.7,751.1 177.2,750.9 174.9,750.2C172.6,749.6 170.9,749.0 169.6,747.4C168.4,745.8 167.6,743.2 167.2,740.7C166.9,738.1 167.2,733.9 167.7,732.0Z"/></clipPath>
<g clip-path="url(#ci0)">
<g style="isolation:isolate"><rect x="22.2" y="616.4" width="260" height="260" fill="#000" filter="url(#va0)" transform="rotate(35 152.2 746.4)"/><rect x="22.2" y="616.4" width="260" height="260" fill="#000" filter="url(#vb0)" transform="rotate(-50 152.2 746.4)" style="mix-blend-mode:lighten"/></g>
<g clip-path="url(#co0)"><rect x="86.1" y="678" width="132.3" height="136.8" fill="#000" filter="url(#col1)"/></g>
<path d="M167.7,732.0C168.3,730.2 169.1,730.0 170.6,729.6C172.1,729.2 174.7,729.2 176.8,729.6C179.0,730.1 181.1,731.6 183.5,732.5C185.9,733.5 189.1,734.3 191.2,735.4C193.3,736.4 195.0,737.2 196.0,738.7C196.9,740.3 196.9,742.8 196.9,744.5C197.0,746.2 197.3,747.8 196.5,748.8C195.7,749.8 194.3,750.3 192.1,750.7C190.0,751.1 186.4,751.3 183.5,751.2C180.7,751.1 177.2,750.9 174.9,750.2C172.6,749.6 170.9,749.0 169.6,747.4C168.4,745.8 167.6,743.2 167.2,740.7C166.9,738.1 167.2,733.9 167.7,732.0Z" fill="none" stroke="#fff" stroke-width="2.3" stroke-linejoin="round"/>
</g>
<rect x="94.2" y="800.8" width="49.1" height="6.5" fill="#fff"/>
<text x="305.4" y="671.8" text-anchor="middle" font-size="15.6" font-family="Liberation Sans, sans-serif" fill="#1a1a1a" textLength="62.3" lengthAdjust="spacingAndGlyphs">Cluster 2</text>
<clipPath id="ci1"><rect x="233.3" y="678" width="132.5" height="136.8"/></clipPath>
<clipPath id="co1"><path d="M275.2,748.1C276.2,746.9 278.2,746.3 280.2,745.9C282.1,745.4 284.5,745.0 286.7,745.3C288.9,745.6 291.2,746.5 293.3,747.5C295.4,748.5 297.7,750.1 299.3,751.3C301.0,752.5 302.1,753.3 303.1,754.6C304.1,755.9 304.2,757.5 305.3,759.0C306.4,760.5 308.8,761.8 309.7,763.4C310.6,764.9 310.9,766.6 310.8,768.3C310.7,770.0 310.3,772.3 309.2,773.8C308.1,775.2 306.0,776.3 304.2,777.0C302.5,777.8 300.8,778.4 298.8,778.1C296.8,777.9 294.5,776.6 292.2,775.4C289.9,774.2 287.4,772.8 285.1,771.0C282.8,769.3 280.1,766.9 278.5,765.0C277.0,763.1 276.4,761.5 275.8,759.5C275.1,757.5 274.8,754.9 274.7,753.0C274.6,751.1 274.3,749.2 275.2,748.1Z"/></clipPath>
<g clip-path="url(#ci1)">
<g style="isolation:isolate"><rect x="169.6" y="616.4" width="260" height="260" fill="#000" filter="url(#va1)" transform="rotate(55 299.6 746.4)"/><rect x="169.6" y="616.4" width="260" height="260" fill="#000" filter="url(#vb1)" transform="rotate(-30 299.6 746.4)" style="mix-blend-mode:lighten"/></g>
<clipPath id="cx2"><polygon points="318.3,677.8 365.9,677.8 365.9,689.2 347.9,694.2 328.2,692.5 320.0,686.0"/></clipPath><g clip-path="url(#cx2)"><rect x="233.3" y="678" width="132.5" height="136.8" fill="#000" filter="url(#col3)"/></g>
<g clip-path="url(#co1)"><rect x="233.3" y="678" width="132.5" height="136.8" fill="#000" filter="url(#col2)"/></g>
<path d="M275.2,748.1C276.2,746.9 278.2,746.3 280.2,745.9C282.1,745.4 284.5,745.0 286.7,745.3C288.9,745.6 291.2,746.5 293.3,747.5C295.4,748.5 297.7,750.1 299.3,751.3C301.0,752.5 302.1,753.3 303.1,754.6C304.1,755.9 304.2,757.5 305.3,759.0C306.4,760.5 308.8,761.8 309.7,763.4C310.6,764.9 310.9,766.6 310.8,768.3C310.7,770.0 310.3,772.3 309.2,773.8C308.1,775.2 306.0,776.3 304.2,777.0C302.5,777.8 300.8,778.4 298.8,778.1C296.8,777.9 294.5,776.6 292.2,775.4C289.9,774.2 287.4,772.8 285.1,771.0C282.8,769.3 280.1,766.9 278.5,765.0C277.0,763.1 276.4,761.5 275.8,759.5C275.1,757.5 274.8,754.9 274.7,753.0C274.6,751.1 274.3,749.2 275.2,748.1Z" fill="none" stroke="#fff" stroke-width="2.3" stroke-linejoin="round"/>
</g>
<rect x="238.0" y="800.8" width="49.1" height="6.5" fill="#fff"/>
<text x="452.4" y="672.6" text-anchor="middle" font-size="15.6" font-family="Liberation Sans, sans-serif" fill="#1a1a1a" textLength="62.3" lengthAdjust="spacingAndGlyphs">Cluster 3</text>
<clipPath id="ci2"><rect x="380.5" y="678.5" width="132.2" height="135.5"/></clipPath>
<clipPath id="co2"><path d="M421.4,735.4C423.3,734.0 426.0,733.8 429.1,733.8C432.2,733.9 437.8,733.4 440.0,735.8C442.2,738.2 442.0,744.7 442.2,748.5C442.4,752.2 443.0,755.6 441.1,758.3C439.3,761.1 433.8,762.0 431.3,764.9C428.7,767.8 428.2,773.1 425.8,775.8C423.4,778.6 419.4,780.6 417.1,781.3C414.7,782.0 413.6,782.4 411.6,780.2C409.6,778.0 406.3,771.5 405.0,768.2C403.7,764.9 402.5,763.1 403.9,760.5C405.4,758.0 411.4,756.0 413.8,752.9C416.1,749.8 416.9,744.8 418.2,741.9C419.4,739.0 419.6,736.7 421.4,735.4Z"/></clipPath>
<g clip-path="url(#ci2)">
<rect x="380.5" y="678.5" width="132.2" height="135.5" fill="#000" filter="url(#col2)"/>
<clipPath id="cf3"><polygon points="380.5,737.5 400.6,737.5 417.1,732.1 435.7,731.0 441.1,693.8 435.7,678.5 445.5,678.5 446.6,704.7 472.9,693.8 483.8,678.5 492.6,678.5 475.1,706.9 457.5,722.2 451.0,741.9 457.5,763.8 472.9,772.6 512.7,783.5 512.7,790.1 475.1,785.7 457.5,790.1 453.2,813.7 380.5,813.7"/></clipPath>
<g clip-path="url(#cf3)"><g style="isolation:isolate"><rect x="316.6" y="616.2" width="260" height="260" fill="#000" filter="url(#va2)" transform="rotate(20 446.6 746.2)"/><rect x="316.6" y="616.2" width="260" height="260" fill="#000" filter="url(#vb2)" transform="rotate(-60 446.6 746.2)" style="mix-blend-mode:lighten"/></g></g>
<circle cx="499" cy="717.8" r="3.2" fill="#222" opacity="0.6" filter="url(#blur1)"/>
<circle cx="478.3" cy="769.3" r="2.6" fill="#222" opacity="0.6" filter="url(#blur1)"/>
<g clip-path="url(#co2)"><rect x="380.5" y="678.5" width="132.2" height="135.5" fill="#000" filter="url(#col0)"/></g>
<path d="M421.4,735.4C423.3,734.0 426.0,733.8 429.1,733.8C432.2,733.9 437.8,733.4 440.0,735.8C442.2,738.2 442.0,744.7 442.2,748.5C442.4,752.2 443.0,755.6 441.1,758.3C439.3,761.1 433.8,762.0 431.3,764.9C428.7,767.8 428.2,773.1 425.8,775.8C423.4,778.6 419.4,780.6 417.1,781.3C414.7,782.0 413.6,782.4 411.6,780.2C409.6,778.0 406.3,771.5 405.0,768.2C403.7,764.9 402.5,763.1 403.9,760.5C405.4,758.0 411.4,756.0 413.8,752.9C416.1,749.8 416.9,744.8 418.2,741.9C419.4,739.0 419.6,736.7 421.4,735.4Z" fill="none" stroke="#fff" stroke-width="2.3" stroke-linejoin="round"/>
</g>
<rect x="387.8" y="800.8" width="49.1" height="6.5" fill="#fff"/>
<text x="158.3" y="834" text-anchor="middle" font-size="15.6" font-family="Liberation Sans, sans-serif" fill="#1a1a1a" textLength="62.3" lengthAdjust="spacingAndGlyphs">Cluster 4</text>
<clipPath id="ci3"><rect x="86.3" y="840.6" width="132.4" height="136.4"/></clipPath>
<clipPath id="co3"><path d="M126.3,892.4C128.1,890.6 130.6,889.5 133.4,888.8C136.3,888.1 140.0,888.4 143.3,888.4C146.6,888.3 150.4,888.1 153.1,888.6C155.9,889.1 157.9,890.1 159.7,891.3C161.5,892.6 162.4,894.4 164.1,896.3C165.7,898.1 168.5,900.1 169.6,902.3C170.6,904.5 170.7,906.9 170.6,909.4C170.6,911.8 169.5,914.7 169.0,917.0C168.5,919.4 169.1,921.9 167.9,923.6C166.7,925.3 164.4,926.5 161.9,927.4C159.4,928.4 155.5,928.6 153.1,929.1C150.8,929.5 149.9,930.4 147.7,930.2C145.5,930.0 142.7,929.3 140.0,928.0C137.4,926.7 134.2,924.7 131.8,922.5C129.4,920.3 127.4,917.4 125.8,914.9C124.1,912.3 122.4,909.8 122.0,907.2C121.5,904.6 122.3,902.0 123.1,899.5C123.8,897.1 124.6,894.2 126.3,892.4Z"/></clipPath>
<g clip-path="url(#ci3)">
<g style="isolation:isolate"><rect x="22.5" y="778.8" width="260" height="260" fill="#000" filter="url(#va3)" transform="rotate(40 152.5 908.8)"/><rect x="22.5" y="778.8" width="260" height="260" fill="#000" filter="url(#vb3)" transform="rotate(-45 152.5 908.8)" style="mix-blend-mode:lighten"/></g>
<g clip-path="url(#co3)"><rect x="86.3" y="840.6" width="132.4" height="136.4" fill="#000" filter="url(#col4)"/></g>
<path d="M126.3,892.4C128.1,890.6 130.6,889.5 133.4,888.8C136.3,888.1 140.0,888.4 143.3,888.4C146.6,888.3 150.4,888.1 153.1,888.6C155.9,889.1 157.9,890.1 159.7,891.3C161.5,892.6 162.4,894.4 164.1,896.3C165.7,898.1 168.5,900.1 169.6,902.3C170.6,904.5 170.7,906.9 170.6,909.4C170.6,911.8 169.5,914.7 169.0,917.0C168.5,919.4 169.1,921.9 167.9,923.6C166.7,925.3 164.4,926.5 161.9,927.4C159.4,928.4 155.5,928.6 153.1,929.1C150.8,929.5 149.9,930.4 147.7,930.2C145.5,930.0 142.7,929.3 140.0,928.0C137.4,926.7 134.2,924.7 131.8,922.5C129.4,920.3 127.4,917.4 125.8,914.9C124.1,912.3 122.4,909.8 122.0,907.2C121.5,904.6 122.3,902.0 123.1,899.5C123.8,897.1 124.6,894.2 126.3,892.4Z" fill="none" stroke="#fff" stroke-width="2.3" stroke-linejoin="round"/>
</g>
<rect x="94.0" y="963.8" width="49.1" height="6.5" fill="#fff"/>
<text x="305.4" y="834" text-anchor="middle" font-size="15.6" font-family="Liberation Sans, sans-serif" fill="#1a1a1a" textLength="62.3" lengthAdjust="spacingAndGlyphs">Cluster 5</text>
<clipPath id="ci4"><rect x="233.5" y="840.6" width="132.2" height="136.6"/></clipPath>
<clipPath id="co4"><path d="M301.2,865.9C302.1,865.6 302.8,865.1 303.6,865.2C304.5,865.2 305.5,865.5 306.4,866.3C307.3,867.1 308.3,867.7 309.2,870.0C310.1,872.3 311.1,875.9 312.0,879.9C312.9,883.8 313.7,889.6 314.8,893.8C315.9,898.0 317.6,901.3 318.5,905.0C319.4,908.7 320.8,912.4 320.4,916.1C319.9,919.9 317.3,923.9 315.7,927.3C314.2,930.7 312.5,933.7 311.1,936.6C309.7,939.6 309.1,943.1 307.3,945.0C305.6,946.8 302.5,946.7 300.8,947.8C299.1,948.9 299.0,951.2 297.1,951.5C295.3,951.8 292.0,951.5 289.7,949.6C287.3,947.8 285.5,943.6 283.2,940.3C280.8,937.1 278.7,932.6 275.7,930.1C272.8,927.6 268.6,928.1 265.5,925.4C262.4,922.8 259.0,918.3 257.1,914.3C255.3,910.2 254.2,905.3 254.3,901.3C254.5,897.2 256.5,893.5 258.0,890.1C259.6,886.7 260.8,883.6 263.6,880.8C266.4,878.0 270.1,875.4 274.8,873.3C279.4,871.3 287.7,869.8 291.5,868.7C295.4,867.6 296.4,867.3 298.0,866.8C299.7,866.4 300.3,866.2 301.2,865.9Z"/></clipPath>
<g clip-path="url(#ci4)">
<g style="isolation:isolate"><rect x="169.6" y="778.9" width="260" height="260" fill="#000" filter="url(#va4)" transform="rotate(65 299.6 908.9)"/><rect x="169.6" y="778.9" width="260" height="260" fill="#000" filter="url(#vb4)" transform="rotate(-25 299.6 908.9)" style="mix-blend-mode:lighten"/></g>
<clipPath id="cx5"><polygon points="277.6,949.6 287.8,947.8 291.5,957.1 286.0,962.7 278.5,959.9"/></clipPath><g clip-path="url(#cx5)"><rect x="233.5" y="840.6" width="132.2" height="136.6" fill="#000" filter="url(#col3)"/></g>
<g clip-path="url(#co4)"><rect x="233.5" y="840.6" width="132.2" height="136.6" fill="#000" filter="url(#col5)"/></g>
<path d="M301.2,865.9C302.1,865.6 302.8,865.1 303.6,865.2C304.5,865.2 305.5,865.5 306.4,866.3C307.3,867.1 308.3,867.7 309.2,870.0C310.1,872.3 311.1,875.9 312.0,879.9C312.9,883.8 313.7,889.6 314.8,893.8C315.9,898.0 317.6,901.3 318.5,905.0C319.4,908.7 320.8,912.4 320.4,916.1C319.9,919.9 317.3,923.9 315.7,927.3C314.2,930.7 312.5,933.7 311.1,936.6C309.7,939.6 309.1,943.1 307.3,945.0C305.6,946.8 302.5,946.7 300.8,947.8C299.1,948.9 299.0,951.2 297.1,951.5C295.3,951.8 292.0,951.5 289.7,949.6C287.3,947.8 285.5,943.6 283.2,940.3C280.8,937.1 278.7,932.6 275.7,930.1C272.8,927.6 268.6,928.1 265.5,925.4C262.4,922.8 259.0,918.3 257.1,914.3C255.3,910.2 254.2,905.3 254.3,901.3C254.5,897.2 256.5,893.5 258.0,890.1C259.6,886.7 260.8,883.6 263.6,880.8C266.4,878.0 270.1,875.4 274.8,873.3C279.4,871.3 287.7,869.8 291.5,868.7C295.4,867.6 296.4,867.3 298.0,866.8C299.7,866.4 300.3,866.2 301.2,865.9Z" fill="none" stroke="#fff" stroke-width="2.3" stroke-linejoin="round"/>
</g>
<rect x="238.5" y="963.8" width="49.1" height="6.5" fill="#fff"/>
<text x="452.2" y="834.6" text-anchor="middle" font-size="15.6" font-family="Liberation Sans, sans-serif" fill="#1a1a1a" textLength="62.3" lengthAdjust="spacingAndGlyphs">Cluster 6</text>
<clipPath id="ci5"><rect x="380.3" y="840.4" width="132.2" height="135.6"/></clipPath>
<clipPath id="co5"><path d="M396.7,857.2C396.0,855.7 394.8,854.8 395.2,854.1C395.5,853.4 396.4,853.5 399.0,852.9C401.5,852.3 405.7,851.4 410.5,850.4C415.3,849.5 422.6,847.7 427.7,847.0C432.8,846.3 436.7,846.5 441.1,846.4C445.6,846.4 451.6,846.2 454.5,846.6C457.5,847.1 457.7,847.8 458.7,849.1C459.8,850.4 460.1,851.3 460.7,854.3C461.2,857.2 461.3,862.7 462.2,866.7C463.1,870.7 463.8,874.1 466.0,878.2C468.3,882.4 471.8,887.3 475.6,891.6C479.4,895.9 484.7,900.4 489.0,904.1C493.3,907.8 498.3,910.6 501.5,913.7C504.6,916.7 507.0,918.9 508.2,922.3C509.3,925.6 509.8,930.4 508.2,933.8C506.6,937.1 502.3,939.4 498.6,942.4C494.9,945.4 490.0,948.5 486.1,952.0C482.3,955.5 478.3,959.9 475.6,963.5C472.9,967.0 471.9,971.1 469.9,973.0C467.8,974.9 466.2,974.9 463.1,974.9C460.1,974.9 454.4,974.8 451.7,973.0C448.9,971.3 448.9,968.2 446.9,964.4C444.8,960.6 441.9,954.8 439.2,950.0C436.5,945.3 434.3,940.3 430.6,935.7C426.9,931.1 421.5,927.1 417.2,922.3C412.9,917.5 407.4,911.4 404.7,907.0C402.0,902.5 401.5,900.6 400.9,895.5C400.3,890.4 401.2,881.7 400.9,876.3C400.6,870.9 399.7,866.1 399.0,862.9C398.3,859.7 397.3,858.6 396.7,857.2Z"/></clipPath>
<g clip-path="url(#ci5)">
<g style="isolation:isolate"><rect x="316.4" y="778.2" width="260" height="260" fill="#000" filter="url(#va5)" transform="rotate(30 446.4 908.2)"/><rect x="316.4" y="778.2" width="260" height="260" fill="#000" filter="url(#vb5)" transform="rotate(-55 446.4 908.2)" style="mix-blend-mode:lighten"/></g>
<clipPath id="cx6"><polygon points="494.8,840.3 512.4,840.3 512.4,882.1 502.4,876.3 496.7,861.0"/></clipPath><g clip-path="url(#cx6)"><rect x="380.3" y="840.4" width="132.2" height="135.6" fill="#000" filter="url(#col3)"/></g>
<g clip-path="url(#co5)"><rect x="380.3" y="840.4" width="132.2" height="135.6" fill="#000" filter="url(#col0)"/></g>
<path d="M396.7,857.2C396.0,855.7 394.8,854.8 395.2,854.1C395.5,853.4 396.4,853.5 399.0,852.9C401.5,852.3 405.7,851.4 410.5,850.4C415.3,849.5 422.6,847.7 427.7,847.0C432.8,846.3 436.7,846.5 441.1,846.4C445.6,846.4 451.6,846.2 454.5,846.6C457.5,847.1 457.7,847.8 458.7,849.1C459.8,850.4 460.1,851.3 460.7,854.3C461.2,857.2 461.3,862.7 462.2,866.7C463.1,870.7 463.8,874.1 466.0,878.2C468.3,882.4 471.8,887.3 475.6,891.6C479.4,895.9 484.7,900.4 489.0,904.1C493.3,907.8 498.3,910.6 501.5,913.7C504.6,916.7 507.0,918.9 508.2,922.3C509.3,925.6 509.8,930.4 508.2,933.8C506.6,937.1 502.3,939.4 498.6,942.4C494.9,945.4 490.0,948.5 486.1,952.0C482.3,955.5 478.3,959.9 475.6,963.5C472.9,967.0 471.9,971.1 469.9,973.0C467.8,974.9 466.2,974.9 463.1,974.9C460.1,974.9 454.4,974.8 451.7,973.0C448.9,971.3 448.9,968.2 446.9,964.4C444.8,960.6 441.9,954.8 439.2,950.0C436.5,945.3 434.3,940.3 430.6,935.7C426.9,931.1 421.5,927.1 417.2,922.3C412.9,917.5 407.4,911.4 404.7,907.0C402.0,902.5 401.5,900.6 400.9,895.5C400.3,890.4 401.2,881.7 400.9,876.3C400.6,870.9 399.7,866.1 399.0,862.9C398.3,859.7 397.3,858.6 396.7,857.2Z" fill="none" stroke="#fff" stroke-width="2.3" stroke-linejoin="round"/>
</g>
<rect x="387.9" y="963.8" width="49.1" height="6.5" fill="#fff"/>
</svg></body></html>
